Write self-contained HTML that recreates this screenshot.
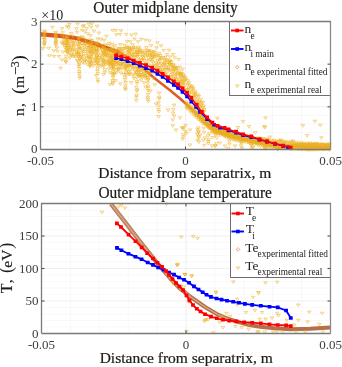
<!DOCTYPE html><html><head><meta charset="utf-8"><style>html,body{margin:0;padding:0;background:#fff;width:342px;height:367px;overflow:hidden;position:relative}</style></head><body><svg width="342" height="367" viewBox="0 0 342 367" style="position:absolute;left:0;top:0;will-change:transform">
<rect width="342" height="367" fill="#fff"/>
<line x1="69.50" y1="21.5" x2="69.50" y2="149.5" stroke="#ededed" stroke-width="0.8" stroke-dasharray="1 1"/>
<line x1="98.50" y1="21.5" x2="98.50" y2="149.5" stroke="#ededed" stroke-width="0.8" stroke-dasharray="1 1"/>
<line x1="127.50" y1="21.5" x2="127.50" y2="149.5" stroke="#ededed" stroke-width="0.8" stroke-dasharray="1 1"/>
<line x1="156.50" y1="21.5" x2="156.50" y2="149.5" stroke="#ededed" stroke-width="0.8" stroke-dasharray="1 1"/>
<line x1="214.50" y1="21.5" x2="214.50" y2="149.5" stroke="#ededed" stroke-width="0.8" stroke-dasharray="1 1"/>
<line x1="243.50" y1="21.5" x2="243.50" y2="149.5" stroke="#ededed" stroke-width="0.8" stroke-dasharray="1 1"/>
<line x1="272.50" y1="21.5" x2="272.50" y2="149.5" stroke="#ededed" stroke-width="0.8" stroke-dasharray="1 1"/>
<line x1="301.50" y1="21.5" x2="301.50" y2="149.5" stroke="#ededed" stroke-width="0.8" stroke-dasharray="1 1"/>
<line x1="185.50" y1="21.5" x2="185.50" y2="149.5" stroke="#ebebeb" stroke-width="0.8"/>
<line x1="40.5" y1="140.97" x2="330.5" y2="140.97" stroke="#efefef" stroke-width="0.8" stroke-dasharray="1 1"/>
<line x1="40.5" y1="132.43" x2="330.5" y2="132.43" stroke="#efefef" stroke-width="0.8" stroke-dasharray="1 1"/>
<line x1="40.5" y1="123.90" x2="330.5" y2="123.90" stroke="#efefef" stroke-width="0.8" stroke-dasharray="1 1"/>
<line x1="40.5" y1="115.37" x2="330.5" y2="115.37" stroke="#efefef" stroke-width="0.8" stroke-dasharray="1 1"/>
<line x1="40.5" y1="106.83" x2="330.5" y2="106.83" stroke="#ebebeb" stroke-width="0.8"/>
<line x1="40.5" y1="98.30" x2="330.5" y2="98.30" stroke="#efefef" stroke-width="0.8" stroke-dasharray="1 1"/>
<line x1="40.5" y1="89.77" x2="330.5" y2="89.77" stroke="#efefef" stroke-width="0.8" stroke-dasharray="1 1"/>
<line x1="40.5" y1="81.23" x2="330.5" y2="81.23" stroke="#efefef" stroke-width="0.8" stroke-dasharray="1 1"/>
<line x1="40.5" y1="72.70" x2="330.5" y2="72.70" stroke="#efefef" stroke-width="0.8" stroke-dasharray="1 1"/>
<line x1="40.5" y1="64.17" x2="330.5" y2="64.17" stroke="#ebebeb" stroke-width="0.8"/>
<line x1="40.5" y1="55.63" x2="330.5" y2="55.63" stroke="#efefef" stroke-width="0.8" stroke-dasharray="1 1"/>
<line x1="40.5" y1="47.10" x2="330.5" y2="47.10" stroke="#efefef" stroke-width="0.8" stroke-dasharray="1 1"/>
<line x1="40.5" y1="38.57" x2="330.5" y2="38.57" stroke="#efefef" stroke-width="0.8" stroke-dasharray="1 1"/>
<line x1="40.5" y1="30.03" x2="330.5" y2="30.03" stroke="#efefef" stroke-width="0.8" stroke-dasharray="1 1"/>
<polyline points="40.5,34.3 60.0,35.9 77.5,38.5 95.0,43.8 109.0,49.0 120.0,53.0" fill="none" stroke="#d9531e" stroke-width="4.2" stroke-linejoin="round" stroke-linecap="butt"/>
<polyline points="120.0,53.0 130.0,58.5 140.0,65.0 150.0,74.5 160.0,82.5 170.0,90.3 180.0,98.5 190.0,107.5 200.0,116.5 207.0,124.0 214.0,129.0 222.0,133.0 240.0,138.0 270.0,144.0 300.0,146.5 330.0,147.5" fill="none" stroke="#db6028" stroke-width="2.6" stroke-linejoin="round" stroke-linecap="butt"/>
<polygon points="192.0,107.5 200.0,113.5 207.0,120.5 214.0,126.2 220.0,128.6 228.5,131.4 236.1,133.8 243.1,136.3 251.3,138.4 259.5,141.2 267.0,143.3 283.0,144.5 300.0,142.8 330.0,143.5 330.0,150.3 300.0,150.3 283.0,150.0 265.0,146.0 250.0,143.0 230.0,138.0 215.0,133.5 207.0,127.5 200.0,120.0 192.0,111.5" fill="#e8aa22" fill-opacity="0.85"/>
<path d="M42.62 30.04H46.12L44.37 32.64ZM42.90 31.28H46.40L44.65 33.88ZM42.65 32.70H46.15L44.40 35.30ZM42.46 33.95H45.96L44.21 36.55ZM42.73 35.49H46.23L44.48 38.09ZM42.41 36.42H45.91L44.16 39.02ZM42.40 38.14H45.90L44.15 40.74ZM42.77 38.85H46.27L44.52 41.45ZM42.94 40.90H46.44L44.69 43.50ZM42.74 41.94H46.24L44.49 44.54ZM42.44 42.78H45.94L44.19 45.38ZM42.67 44.13H46.17L44.42 46.73ZM53.86 31.49H57.36L55.61 34.09ZM53.77 32.94H57.27L55.52 35.54ZM54.01 34.51H57.51L55.76 37.11ZM54.06 35.64H57.56L55.81 38.24ZM54.05 36.94H57.55L55.80 39.54ZM54.02 37.92H57.52L55.77 40.52ZM54.35 39.76H57.85L56.10 42.36ZM54.25 40.82H57.75L56.00 43.42ZM53.94 41.73H57.44L55.69 44.33ZM53.92 42.89H57.42L55.67 45.49ZM54.21 44.43H57.71L55.96 47.03ZM65.46 35.21H68.96L67.21 37.81ZM65.52 36.91H69.02L67.27 39.51ZM64.95 37.73H68.45L66.70 40.33ZM65.50 39.28H69.00L67.25 41.88ZM65.54 40.55H69.04L67.29 43.15ZM64.99 42.07H68.49L66.74 44.67ZM65.42 43.12H68.92L67.17 45.72ZM65.00 44.50H68.50L66.75 47.10ZM65.53 46.17H69.03L67.28 48.77ZM65.02 47.10H68.52L66.77 49.70ZM65.01 48.28H68.51L66.76 50.88ZM65.43 49.71H68.93L67.18 52.31ZM65.43 51.71H68.93L67.18 54.31ZM64.32 55.22H67.82L66.07 57.82ZM64.14 58.06H67.64L65.89 60.66ZM64.10 60.66H67.60L65.85 63.26ZM50.65 26.20H54.15L52.40 28.80ZM65.25 25.50H68.75L67.00 28.10ZM74.75 27.70H78.25L76.50 30.30ZM82.15 24.70H85.65L83.90 27.30ZM87.25 23.30H90.75L89.00 25.90ZM41.25 47.60H44.75L43.00 50.20ZM46.85 47.20H50.35L48.60 49.80ZM52.15 49.60H55.65L53.90 52.20ZM55.75 50.30H59.25L57.50 52.90ZM52.15 55.40H55.65L53.90 58.00ZM47.75 54.70H51.25L49.50 57.30ZM57.25 55.40H60.75L59.00 58.00ZM58.75 67.10H62.25L60.50 69.70ZM60.25 58.90H63.75L62.00 61.50ZM64.25 60.90H67.75L66.00 63.50ZM68.25 56.90H71.75L70.00 59.50ZM55.25 46.90H58.75L57.00 49.50ZM61.25 50.90H64.75L63.00 53.50ZM84.86 27.51H88.36L86.61 30.11ZM179.62 72.75H183.12L181.37 75.35ZM96.27 42.13H99.77L98.02 44.73ZM165.05 58.53H168.55L166.80 61.13ZM70.79 39.23H74.29L72.54 41.83ZM154.84 46.77H158.34L156.59 49.37ZM95.29 25.18H98.79L97.04 27.78ZM69.51 32.34H73.01L71.26 34.94ZM88.63 34.61H92.13L90.38 37.21ZM104.71 35.16H108.21L106.46 37.76ZM178.14 66.20H181.64L179.89 68.80ZM130.07 48.62H133.57L131.82 51.22ZM81.10 25.22H84.60L82.85 27.82ZM171.80 66.55H175.30L173.55 69.15ZM89.44 26.17H92.94L91.19 28.77ZM150.68 55.28H154.18L152.43 57.88ZM82.82 40.84H86.32L84.57 43.44ZM168.52 60.00H172.02L170.27 62.60ZM110.93 29.51H114.43L112.68 32.11ZM63.09 36.35H66.59L64.84 38.95ZM90.37 39.64H93.87L92.12 42.24ZM132.81 38.00H136.31L134.56 40.60ZM80.18 35.98H83.68L81.93 38.58ZM66.85 26.64H70.35L68.60 29.24ZM172.92 56.80H176.42L174.67 59.40ZM60.32 27.51H63.82L62.07 30.11ZM113.96 29.25H117.46L115.71 31.85ZM80.28 29.31H83.78L82.03 31.91ZM129.77 33.97H133.27L131.52 36.57ZM103.52 43.75H107.02L105.27 46.35ZM144.65 46.55H148.15L146.40 49.15ZM75.79 23.15H79.29L77.54 25.75ZM60.49 34.78H63.99L62.24 37.38ZM145.87 53.75H149.37L147.62 56.35ZM60.91 31.74H64.41L62.66 34.34ZM118.53 43.57H122.03L120.28 46.17ZM98.11 44.86H101.61L99.86 47.46ZM150.39 50.85H153.89L152.14 53.45ZM157.41 58.87H160.91L159.16 61.47ZM102.23 39.30H105.73L103.98 41.90ZM110.39 43.14H113.89L112.14 45.74ZM136.37 40.67H139.87L138.12 43.27ZM131.08 43.76H134.58L132.83 46.36ZM182.42 76.30H185.92L184.17 78.90ZM149.28 44.51H152.78L151.03 47.11ZM113.32 44.68H116.82L115.07 47.28ZM118.37 33.53H121.87L120.12 36.13ZM135.06 50.73H138.56L136.81 53.33ZM90.23 22.63H93.73L91.98 25.23ZM95.88 37.79H99.38L97.63 40.39ZM171.47 63.50H174.97L173.22 66.10ZM99.12 38.24H102.62L100.87 40.84ZM83.06 30.65H86.56L84.81 33.25ZM168.28 55.85H171.78L170.03 58.45ZM75.27 31.36H78.77L77.02 33.96ZM162.89 60.96H166.39L164.64 63.56ZM114.58 33.67H118.08L116.33 36.27ZM181.00 68.18H184.50L182.75 70.78ZM67.58 23.52H71.08L69.33 26.12ZM167.35 49.11H170.85L169.10 51.71ZM161.96 49.40H165.46L163.71 52.00ZM137.00 46.05H140.50L138.75 48.65ZM143.81 39.25H147.31L145.56 41.85ZM147.52 39.92H151.02L149.27 42.52ZM92.29 30.10H95.79L94.04 32.70ZM107.44 42.57H110.94L109.19 45.17ZM171.53 53.49H175.03L173.28 56.09ZM174.83 67.41H178.33L176.58 70.01ZM168.17 63.19H171.67L169.92 65.79ZM139.67 38.19H143.17L141.42 40.79ZM125.37 46.14H128.87L127.12 48.74ZM165.22 53.36H168.72L166.97 55.96ZM119.18 29.65H122.68L120.93 32.25ZM159.39 44.74H162.89L161.14 47.34ZM122.82 44.28H126.32L124.57 46.88ZM176.89 58.42H180.39L178.64 61.02ZM85.93 32.77H89.43L87.68 35.37ZM97.21 31.98H100.71L98.96 34.58ZM125.24 40.36H128.74L126.99 42.96ZM133.90 33.14H137.40L135.65 35.74ZM128.61 40.81H132.11L130.36 43.41ZM155.66 41.76H159.16L157.41 44.36ZM71.36 35.01H74.86L73.11 37.61ZM124.42 33.33H127.92L126.17 35.93ZM85.52 42.32H89.02L87.27 44.92ZM187.17 81.79H190.67L188.92 84.39ZM164.15 59.75H167.65L165.90 62.35ZM179.25 77.02H182.75L181.00 79.62ZM78.27 47.39H81.77L80.02 49.99ZM190.58 99.62H194.08L192.33 102.22ZM132.56 60.25H136.06L134.31 62.85ZM158.30 54.57H161.80L160.05 57.17ZM75.43 41.19H78.93L77.18 43.79ZM133.87 56.27H137.37L135.62 58.87ZM86.64 46.49H90.14L88.39 49.09ZM201.86 111.40H205.36L203.61 114.00ZM69.11 54.38H72.61L70.86 56.98ZM169.61 65.29H173.11L171.36 67.89ZM133.94 53.38H137.44L135.69 55.98ZM86.17 51.04H89.67L87.92 53.64ZM118.21 49.06H121.71L119.96 51.66ZM133.55 46.78H137.05L135.30 49.38ZM174.89 78.37H178.39L176.64 80.97ZM150.25 56.35H153.75L152.00 58.95ZM132.36 65.69H135.86L134.11 68.29ZM97.18 64.41H100.68L98.93 67.01ZM171.50 77.95H175.00L173.25 80.55ZM188.46 95.67H191.96L190.21 98.27ZM169.97 75.49H173.47L171.72 78.09ZM163.59 56.32H167.09L165.34 58.92ZM127.29 46.05H130.79L129.04 48.65ZM151.59 62.00H155.09L153.34 64.60ZM195.34 100.00H198.84L197.09 102.60ZM154.60 61.69H158.10L156.35 64.29ZM115.96 64.90H119.46L117.71 67.50ZM160.53 69.16H164.03L162.28 71.76ZM96.95 52.75H100.45L98.70 55.35ZM88.20 50.12H91.70L89.95 52.72ZM202.55 108.61H206.05L204.30 111.21ZM71.15 48.86H74.65L72.90 51.46ZM66.70 52.05H70.20L68.45 54.65ZM127.71 47.83H131.21L129.46 50.43ZM147.65 49.36H151.15L149.40 51.96ZM120.41 54.60H123.91L122.16 57.20ZM112.53 51.37H116.03L114.28 53.97ZM140.42 51.77H143.92L142.17 54.37ZM102.58 47.84H106.08L104.33 50.44ZM116.01 62.60H119.51L117.76 65.20ZM70.76 54.76H74.26L72.51 57.36ZM128.55 64.33H132.05L130.30 66.93ZM135.09 65.33H138.59L136.84 67.93ZM127.22 64.38H130.72L128.97 66.98ZM125.41 48.55H128.91L127.16 51.15ZM135.77 48.37H139.27L137.52 50.97ZM155.76 59.34H159.26L157.51 61.94ZM143.51 55.07H147.01L145.26 57.67ZM136.15 67.21H139.65L137.90 69.81ZM187.91 93.20H191.41L189.66 95.80ZM141.03 58.39H144.53L142.78 60.99ZM167.98 61.19H171.48L169.73 63.79ZM200.35 109.53H203.85L202.10 112.13ZM65.90 39.69H69.40L67.65 42.29ZM121.05 56.51H124.55L122.80 59.11ZM137.71 47.99H141.21L139.46 50.59ZM156.96 62.04H160.46L158.71 64.64ZM113.62 54.38H117.12L115.37 56.98ZM109.40 60.09H112.90L111.15 62.69ZM70.88 41.23H74.38L72.63 43.83ZM149.44 64.97H152.94L151.19 67.57ZM120.93 49.77H124.43L122.68 52.37ZM113.01 57.72H116.51L114.76 60.32ZM106.78 56.47H110.28L108.53 59.07ZM191.93 92.11H195.43L193.68 94.71ZM74.12 56.30H77.62L75.87 58.90ZM158.25 56.69H161.75L160.00 59.29ZM71.93 44.05H75.43L73.68 46.65ZM159.49 57.15H162.99L161.24 59.75ZM111.42 59.40H114.92L113.17 62.00ZM77.04 53.49H80.54L78.79 56.09ZM122.88 60.32H126.38L124.63 62.92ZM105.67 53.70H109.17L107.42 56.30ZM188.20 84.45H191.70L189.95 87.05ZM115.67 49.50H119.17L117.42 52.10ZM174.23 74.16H177.73L175.98 76.76ZM140.73 49.96H144.23L142.48 52.56ZM198.45 103.73H201.95L200.20 106.33ZM69.41 47.08H72.91L71.16 49.68ZM72.27 41.08H75.77L74.02 43.68ZM80.82 55.67H84.32L82.57 58.27ZM95.35 49.12H98.85L97.10 51.72ZM134.83 60.99H138.33L136.58 63.59ZM108.56 64.84H112.06L110.31 67.44ZM130.84 54.94H134.34L132.59 57.54ZM161.51 73.80H165.01L163.26 76.40ZM178.40 80.98H181.90L180.15 83.58ZM175.49 81.91H178.99L177.24 84.51ZM197.21 102.02H200.71L198.96 104.62ZM161.79 70.85H165.29L163.54 73.45ZM120.38 48.18H123.88L122.13 50.78ZM201.96 105.01H205.46L203.71 107.61ZM89.47 51.47H92.97L91.22 54.07ZM198.93 98.13H202.43L200.68 100.73ZM76.67 52.02H80.17L78.42 54.62ZM85.91 44.25H89.41L87.66 46.85ZM143.77 67.08H147.27L145.52 69.68ZM75.79 43.09H79.29L77.54 45.69ZM93.91 59.02H97.41L95.66 61.62ZM92.28 47.85H95.78L94.03 50.45ZM84.92 57.46H88.42L86.67 60.06ZM138.65 63.27H142.15L140.40 65.87ZM109.17 56.36H112.67L110.92 58.96ZM129.26 48.74H132.76L131.01 51.34ZM195.75 102.52H199.25L197.50 105.12ZM135.69 55.52H139.19L137.44 58.12ZM61.81 42.92H65.31L63.56 45.52ZM82.74 44.54H86.24L84.49 47.14ZM151.34 71.94H154.84L153.09 74.54ZM177.81 70.14H181.31L179.56 72.74ZM182.85 79.06H186.35L184.60 81.66ZM119.88 62.96H123.38L121.63 65.56ZM178.41 72.50H181.91L180.16 75.10ZM104.78 52.11H108.28L106.53 54.71ZM103.97 54.77H107.47L105.72 57.37ZM116.63 53.70H120.13L118.38 56.30ZM114.18 58.72H117.68L115.93 61.32ZM140.92 55.38H144.42L142.67 57.98ZM202.05 109.97H205.55L203.80 112.57ZM148.35 53.34H151.85L150.10 55.94ZM137.44 51.51H140.94L139.19 54.11ZM116.33 57.68H119.83L118.08 60.28ZM88.84 58.19H92.34L90.59 60.79ZM195.39 98.60H198.89L197.14 101.20ZM107.68 61.95H111.18L109.43 64.55ZM80.39 42.96H83.89L82.14 45.56ZM161.54 56.57H165.04L163.29 59.17ZM179.93 81.03H183.43L181.68 83.63ZM118.43 47.48H121.93L120.18 50.08ZM169.91 76.85H173.41L171.66 79.45ZM107.64 54.11H111.14L109.39 56.71ZM117.55 58.27H121.05L119.30 60.87ZM173.17 75.70H176.67L174.92 78.30ZM62.90 41.65H66.40L64.65 44.25ZM153.30 51.64H156.80L155.05 54.24ZM147.69 50.81H151.19L149.44 53.41ZM189.38 90.66H192.88L191.13 93.26ZM131.81 47.97H135.31L133.56 50.57ZM179.73 73.86H183.23L181.48 76.46ZM149.93 52.10H153.43L151.68 54.70ZM95.23 56.07H98.73L96.98 58.67ZM107.32 64.14H110.82L109.07 66.74ZM126.46 47.33H129.96L128.21 49.93ZM79.64 59.04H83.14L81.39 61.64ZM146.27 50.02H149.77L148.02 52.62ZM101.52 63.97H105.02L103.27 66.57ZM142.27 64.59H145.77L144.02 67.19ZM86.00 63.66H89.50L87.75 66.26ZM154.40 55.63H157.90L156.15 58.23ZM165.74 63.29H169.24L167.49 65.89ZM175.20 66.63H178.70L176.95 69.23ZM97.95 56.43H101.45L99.70 59.03ZM152.01 50.35H155.51L153.76 52.95ZM80.95 60.94H84.45L82.70 63.54ZM127.45 51.94H130.95L129.20 54.54ZM158.82 68.22H162.32L160.57 70.82ZM129.72 65.21H133.22L131.47 67.81ZM182.52 80.41H186.02L184.27 83.01ZM141.18 66.24H144.68L142.93 68.84ZM135.33 53.70H138.83L137.08 56.30ZM106.11 48.87H109.61L107.86 51.47ZM167.77 63.15H171.27L169.52 65.75ZM132.13 52.37H135.63L133.88 54.97ZM159.62 62.66H163.12L161.37 65.26ZM104.05 53.47H107.55L105.80 56.07ZM155.45 69.92H158.95L157.20 72.52ZM175.40 69.46H178.90L177.15 72.06ZM173.56 66.02H177.06L175.31 68.62ZM196.24 93.88H199.74L197.99 96.48ZM103.05 52.12H106.55L104.80 54.72ZM111.23 56.71H114.73L112.98 59.31ZM64.70 50.22H68.20L66.45 52.82ZM131.52 64.23H135.02L133.27 66.83ZM192.19 99.99H195.69L193.94 102.59ZM84.83 60.44H88.33L86.58 63.04ZM89.14 55.92H92.64L90.89 58.52ZM186.11 79.67H189.61L187.86 82.27ZM184.60 88.30H188.10L186.35 90.90ZM159.77 73.70H163.27L161.52 76.30ZM71.55 42.73H75.05L73.30 45.33ZM144.61 51.51H148.11L146.36 54.11ZM192.78 96.80H196.28L194.53 99.40ZM123.22 54.47H126.72L124.97 57.07ZM66.73 46.60H70.23L68.48 49.20ZM96.13 61.52H99.63L97.88 64.12ZM101.03 60.71H104.53L102.78 63.31ZM100.16 56.14H103.66L101.91 58.74ZM188.53 97.92H192.03L190.28 100.52ZM126.26 59.05H129.76L128.01 61.65ZM193.13 94.73H196.63L194.88 97.33ZM139.76 59.35H143.26L141.51 61.95ZM154.38 67.19H157.88L156.13 69.79ZM132.56 62.34H136.06L134.31 64.94ZM171.74 64.67H175.24L173.49 67.27ZM93.90 52.92H97.40L95.65 55.52ZM131.60 46.66H135.10L133.35 49.26ZM162.45 65.37H165.95L164.20 67.97ZM97.85 61.75H101.35L99.60 64.35ZM173.45 67.63H176.95L175.20 70.23ZM104.72 48.49H108.22L106.47 51.09ZM149.08 58.72H152.58L150.83 61.32ZM144.43 49.24H147.93L146.18 51.84ZM84.79 46.77H88.29L86.54 49.37ZM159.02 70.33H162.52L160.77 72.93ZM68.99 44.70H72.49L70.74 47.30ZM91.19 64.72H94.69L92.94 67.32ZM130.25 59.74H133.75L132.00 62.34ZM80.92 49.31H84.42L82.67 51.91ZM80.49 47.93H83.99L82.24 50.53ZM93.12 49.22H96.62L94.87 51.82ZM159.59 71.54H163.09L161.34 74.14ZM187.00 86.37H190.50L188.75 88.97ZM180.81 78.03H184.31L182.56 80.63ZM91.05 50.36H94.55L92.80 52.96ZM138.84 49.45H142.34L140.59 52.05ZM90.92 52.73H94.42L92.67 55.33ZM124.19 64.74H127.69L125.94 67.34ZM70.66 50.37H74.16L72.41 52.97ZM99.51 47.26H103.01L101.26 49.86ZM162.52 58.82H166.02L164.27 61.42ZM72.14 55.31H75.64L73.89 57.91ZM170.46 70.13H173.96L172.21 72.73ZM81.82 52.59H85.32L83.57 55.19ZM79.70 54.34H83.20L81.45 56.94ZM163.99 68.60H167.49L165.74 71.20ZM89.54 48.69H93.04L91.29 51.29ZM118.21 52.14H121.71L119.96 54.74ZM91.10 45.57H94.60L92.85 48.17ZM150.40 60.14H153.90L152.15 62.74ZM199.76 101.31H203.26L201.51 103.91ZM191.68 88.99H195.18L193.43 91.59ZM155.57 72.51H159.07L157.32 75.11ZM93.80 57.04H97.30L95.55 59.64ZM121.41 52.01H124.91L123.16 54.61ZM115.07 51.62H118.57L116.82 54.22ZM100.26 49.07H103.76L102.01 51.67ZM94.54 47.07H98.04L96.29 49.67ZM160.55 63.84H164.05L162.30 66.44ZM106.80 51.49H110.30L108.55 54.09ZM109.88 63.03H113.38L111.63 65.63ZM97.70 58.63H101.20L99.45 61.23ZM127.35 56.05H130.85L129.10 58.65ZM170.57 72.67H174.07L172.32 75.27ZM178.88 86.16H182.38L180.63 88.76ZM190.32 85.23H193.82L192.07 87.83ZM132.76 50.84H136.26L134.51 53.44ZM94.47 54.13H97.97L96.22 56.73ZM138.63 58.60H142.13L140.38 61.20ZM179.10 88.43H182.60L180.85 91.03ZM162.63 68.49H166.13L164.38 71.09ZM198.09 105.66H201.59L199.84 108.26ZM136.61 50.27H140.11L138.36 52.87ZM78.27 41.94H81.77L80.02 44.54ZM74.87 52.71H78.37L76.62 55.31ZM124.83 59.57H128.33L126.58 62.17ZM83.50 59.59H87.00L85.25 62.19ZM67.89 42.14H71.39L69.64 44.74ZM174.14 71.11H177.64L175.89 73.71ZM96.26 59.45H99.76L98.01 62.05ZM107.99 60.56H111.49L109.74 63.16ZM178.73 79.27H182.23L180.48 81.87ZM155.97 54.61H159.47L157.72 57.21ZM193.72 103.23H197.22L195.47 105.83ZM77.43 45.83H80.93L79.18 48.43ZM137.84 55.27H141.34L139.59 57.87ZM104.47 61.57H107.97L106.22 64.17ZM100.82 53.07H104.32L102.57 55.67ZM169.70 80.90H173.20L171.45 83.50ZM81.26 44.36H84.76L83.01 46.96ZM193.75 92.36H197.25L195.50 94.96ZM129.50 52.20H133.00L131.25 54.80ZM116.87 47.61H120.37L118.62 50.21ZM194.51 102.05H198.01L196.26 104.65ZM173.55 77.76H177.05L175.30 80.36ZM201.24 101.62H204.74L202.99 104.22ZM92.74 51.61H96.24L94.49 54.21ZM151.49 55.66H154.99L153.24 58.26ZM189.69 87.55H193.19L191.44 90.15ZM166.53 67.49H170.03L168.28 70.09ZM110.35 54.10H113.85L112.10 56.70ZM186.16 83.14H189.66L187.91 85.74ZM75.75 59.59H79.25L77.50 62.19ZM157.09 72.89H160.59L158.84 75.49ZM86.48 49.20H89.98L88.23 51.80ZM152.32 53.11H155.82L154.07 55.71ZM132.44 55.93H135.94L134.19 58.53ZM180.01 83.10H183.51L181.76 85.70ZM124.14 55.74H127.64L125.89 58.34ZM193.47 90.89H196.97L195.22 93.49ZM165.61 78.25H169.11L167.36 80.85ZM184.30 78.30H187.80L186.05 80.90ZM153.09 71.03H156.59L154.84 73.63ZM69.52 53.10H73.02L71.27 55.70ZM136.94 64.03H140.44L138.69 66.63ZM100.24 58.20H103.74L101.99 60.80ZM94.83 61.18H98.33L96.58 63.78ZM183.92 90.03H187.42L185.67 92.63ZM148.49 68.23H151.99L150.24 70.83ZM185.60 89.65H189.10L187.35 92.25ZM108.81 52.51H112.31L110.56 55.11ZM88.30 64.77H91.80L90.05 67.37ZM120.99 60.75H124.49L122.74 63.35ZM125.57 53.90H129.07L127.32 56.50ZM143.09 52.27H146.59L144.84 54.87ZM125.30 63.30H128.80L127.05 65.90ZM166.54 68.80H170.04L168.29 71.40ZM159.62 66.33H163.12L161.37 68.93ZM177.58 84.26H181.08L179.33 86.86ZM72.89 45.36H76.39L74.64 47.96ZM150.77 57.98H154.27L152.52 60.58ZM126.72 50.27H130.22L128.47 52.87ZM146.84 69.64H150.34L148.59 72.24ZM153.19 64.56H156.69L154.94 67.16ZM69.77 45.83H73.27L71.52 48.43ZM154.07 53.76H157.57L155.82 56.36ZM84.11 54.61H87.61L85.86 57.21ZM166.36 61.19H169.86L168.11 63.79ZM164.76 71.92H168.26L166.51 74.52ZM76.16 55.03H79.66L77.91 57.63ZM102.29 61.16H105.79L104.04 63.76ZM181.91 75.21H185.41L183.66 77.81ZM82.39 61.79H85.89L84.14 64.39ZM118.37 56.41H121.87L120.12 59.01ZM198.07 100.30H201.57L199.82 102.90ZM82.24 57.93H85.74L83.99 60.53ZM64.33 39.79H67.83L66.08 42.39ZM66.84 43.95H70.34L68.59 46.55ZM97.55 47.92H101.05L99.30 50.52ZM187.05 95.57H190.55L188.80 98.17ZM67.34 50.87H70.84L69.09 53.47ZM92.09 46.55H95.59L93.84 49.15ZM105.21 55.18H108.71L106.96 57.78ZM118.39 64.11H121.89L120.14 66.71ZM145.10 68.86H148.60L146.85 71.46ZM145.77 54.44H149.27L147.52 57.04ZM147.37 59.77H150.87L149.12 62.37ZM67.84 40.33H71.34L69.59 42.93ZM157.47 52.60H160.97L159.22 55.20ZM179.16 75.27H182.66L180.91 77.87ZM177.42 82.69H180.92L179.17 85.29ZM167.89 69.23H171.39L169.64 71.83ZM171.99 69.90H175.49L173.74 72.50ZM77.89 57.63H81.39L79.64 60.23ZM64.74 43.43H68.24L66.49 46.03ZM158.86 58.99H162.36L160.61 61.59ZM83.68 48.14H87.18L85.43 50.74ZM164.70 66.88H168.20L166.45 69.48ZM162.71 62.31H166.21L164.46 64.91ZM140.26 67.85H143.76L142.01 70.45ZM167.95 59.80H171.45L169.70 62.40ZM181.43 73.94H184.93L183.18 76.54ZM63.16 44.21H66.66L64.91 46.81ZM102.15 50.81H105.65L103.90 53.41ZM136.69 58.97H140.19L138.44 61.57ZM164.53 76.23H168.03L166.28 78.83ZM141.19 53.17H144.69L142.94 55.77ZM74.84 49.74H78.34L76.59 52.34ZM69.03 48.96H72.53L70.78 51.56ZM86.64 52.76H90.14L88.39 55.36ZM183.03 91.28H186.53L184.78 93.88ZM72.61 48.09H76.11L74.36 50.69ZM197.12 95.31H200.62L198.87 97.91ZM143.20 62.94H146.70L144.95 65.54ZM199.73 107.70H203.23L201.48 110.30ZM135.48 51.84H138.98L137.23 54.44ZM128.75 59.87H132.25L130.50 62.47ZM135.00 50.30H138.50L136.75 52.90ZM173.27 73.17H176.77L175.02 75.77ZM169.43 63.56H172.93L171.18 66.16ZM111.22 63.25H114.72L112.97 65.85ZM172.12 68.03H175.62L173.87 70.63ZM166.29 65.71H169.79L168.04 68.31ZM89.65 62.01H93.15L91.40 64.61ZM87.80 45.79H91.30L89.55 48.39ZM125.14 51.38H128.64L126.89 53.98ZM99.29 65.21H102.79L101.04 67.81ZM104.15 50.06H107.65L105.90 52.66ZM169.26 69.17H172.76L171.01 71.77ZM181.23 79.98H184.73L182.98 82.58ZM195.25 104.74H198.75L197.00 107.34ZM148.73 55.09H152.23L150.48 57.69ZM186.65 88.03H190.15L188.40 90.63ZM182.23 89.37H185.73L183.98 91.97ZM192.18 93.70H195.68L193.93 96.30ZM60.49 42.71H63.99L62.24 45.31ZM142.36 59.64H145.86L144.11 62.24ZM123.56 47.12H127.06L125.31 49.72ZM130.30 53.69H133.80L132.05 56.29ZM88.35 47.21H91.85L90.10 49.81ZM175.15 85.08H178.65L176.90 87.68ZM176.76 72.24H180.26L178.51 74.84ZM191.74 87.25H195.24L193.49 89.85ZM86.84 56.64H90.34L88.59 59.24ZM201.11 106.65H204.61L202.86 109.25ZM158.39 73.25H161.89L160.14 75.85ZM170.95 66.77H174.45L172.70 69.37ZM183.59 83.82H187.09L185.34 86.42ZM119.51 52.40H123.01L121.26 55.00ZM122.17 57.77H125.67L123.92 60.37ZM189.32 86.06H192.82L191.07 88.66ZM169.80 61.11H173.30L171.55 63.71ZM139.08 51.33H142.58L140.83 53.93ZM122.09 47.52H125.59L123.84 50.12ZM196.77 105.05H200.27L198.52 107.65ZM66.89 48.45H70.39L68.64 51.05ZM129.84 55.78H133.34L131.59 58.38ZM91.85 62.18H95.35L93.60 64.78ZM119.04 50.66H122.54L120.79 53.26ZM156.23 66.73H159.73L157.98 69.33ZM92.57 59.99H96.07L94.32 62.59ZM144.67 62.17H148.17L146.42 64.77ZM106.69 59.93H110.19L108.44 62.53ZM188.02 91.03H191.52L189.77 93.63ZM175.51 73.06H179.01L177.26 75.66ZM146.89 56.65H150.39L148.64 59.25ZM103.21 59.26H106.71L104.96 61.86ZM104.74 63.14H108.24L106.49 65.74ZM72.51 53.65H76.01L74.26 56.25ZM98.06 54.75H101.56L99.81 57.35ZM90.47 57.90H93.97L92.22 60.50ZM128.02 50.13H131.52L129.77 52.73ZM176.41 76.96H179.91L178.16 79.56ZM109.05 54.49H112.55L110.80 57.09ZM110.74 64.90H114.24L112.49 67.50ZM183.56 76.73H187.06L185.31 79.33ZM63.24 46.40H66.74L64.99 49.00ZM95.84 50.46H99.34L97.59 53.06ZM127.33 53.91H130.83L129.08 56.51ZM154.55 64.82H158.05L156.30 67.42ZM173.02 81.05H176.52L174.77 83.65ZM87.60 61.22H91.10L89.35 63.82ZM158.01 66.06H161.51L159.76 68.66ZM179.72 72.28H183.22L181.47 74.88ZM62.16 39.68H65.66L63.91 42.28ZM194.58 95.79H198.08L196.33 98.39ZM144.89 59.04H148.39L146.64 61.64ZM126.60 62.50H130.10L128.35 65.10ZM74.74 51.20H78.24L76.49 53.80ZM176.71 80.57H180.21L178.46 83.17ZM83.63 50.60H87.13L85.38 53.20ZM86.62 55.18H90.12L88.37 57.78ZM115.00 61.03H118.50L116.75 63.63ZM191.45 95.33H194.95L193.20 97.93ZM181.03 84.36H184.53L182.78 86.96ZM156.01 63.67H159.51L157.76 66.27ZM162.84 63.74H166.34L164.59 66.34ZM144.98 67.56H148.48L146.73 70.16ZM169.08 73.68H172.58L170.83 76.28ZM114.73 48.32H118.23L116.48 50.92ZM181.28 82.62H184.78L183.03 85.22ZM136.83 52.87H140.33L138.58 55.47ZM141.49 56.59H144.99L143.24 59.19ZM137.73 66.16H141.23L139.48 68.76ZM100.93 51.31H104.43L102.68 53.91ZM166.14 75.25H169.64L167.89 77.85ZM79.07 55.84H82.57L80.82 58.44ZM150.16 53.71H153.66L151.91 56.31ZM108.79 48.79H112.29L110.54 51.39ZM60.53 40.95H64.03L62.28 43.55ZM163.58 73.22H167.08L165.33 75.82ZM104.97 60.29H108.47L106.72 62.89ZM83.43 43.21H86.93L85.18 45.81ZM178.11 74.38H181.61L179.86 76.98ZM157.78 74.43H161.28L159.53 77.03ZM101.73 54.38H105.23L103.48 56.98ZM146.35 63.91H149.85L148.10 66.51ZM129.31 47.44H132.81L131.06 50.04ZM108.18 50.23H111.68L109.93 52.83ZM89.78 45.22H93.28L91.53 47.82ZM80.26 50.98H83.76L82.01 53.58ZM105.64 50.11H109.14L107.39 52.71ZM112.38 52.71H115.88L114.13 55.31ZM199.62 104.59H203.12L201.37 107.19ZM152.81 56.06H156.31L154.56 58.66ZM181.34 86.75H184.84L183.09 89.35ZM174.43 83.02H177.93L176.18 85.62ZM151.51 69.12H155.01L153.26 71.72ZM86.94 42.96H90.44L88.69 45.56ZM91.07 42.49H94.57L92.82 45.09ZM84.72 39.32H88.22L86.47 41.92ZM94.08 42.21H97.58L95.83 44.81ZM106.87 44.58H110.37L108.62 47.18ZM103.08 48.53H106.58L104.83 51.13ZM81.29 36.93H84.79L83.04 39.53ZM109.52 49.29H113.02L111.27 51.89ZM76.89 37.82H80.39L78.64 40.42ZM101.39 44.79H104.89L103.14 47.39ZM91.10 45.67H94.60L92.85 48.27ZM112.71 50.13H116.21L114.46 52.73ZM113.92 79.67H117.42L115.67 82.27ZM112.31 72.73H115.81L114.06 75.33ZM112.63 60.45H116.13L114.38 63.05ZM126.72 65.45H130.22L128.47 68.05ZM152.89 83.76H156.39L154.64 86.36ZM148.62 90.09H152.12L150.37 92.69ZM142.36 81.61H145.86L144.11 84.21ZM129.53 81.64H133.03L131.28 84.24ZM138.37 69.15H141.87L140.12 71.75ZM132.10 73.35H135.60L133.85 75.95ZM139.26 79.06H142.76L141.01 81.66ZM143.75 86.04H147.25L145.50 88.64ZM151.40 77.30H154.90L153.15 79.90ZM128.01 73.48H131.51L129.76 76.08ZM133.65 70.55H137.15L135.40 73.15ZM143.29 74.71H146.79L145.04 77.31ZM108.30 71.70H111.80L110.05 74.30ZM111.37 64.81H114.87L113.12 67.41ZM138.26 75.11H141.76L140.01 77.71ZM131.67 68.08H135.17L133.42 70.68ZM114.44 63.66H117.94L116.19 66.26ZM132.23 77.49H135.73L133.98 80.09ZM108.38 83.57H111.88L110.13 86.17ZM145.84 76.55H149.34L147.59 79.15ZM118.66 82.87H122.16L120.41 85.47ZM144.47 72.46H147.97L146.22 75.06ZM111.60 61.85H115.10L113.35 64.45ZM116.38 67.38H119.88L118.13 69.98ZM136.49 73.46H139.99L138.24 76.06ZM124.61 66.13H128.11L126.36 68.73ZM125.90 65.35H129.40L127.65 67.95ZM125.36 69.49H128.86L127.11 72.09ZM136.12 68.22H139.62L137.87 70.82ZM130.06 64.40H133.56L131.81 67.00ZM108.15 61.56H111.65L109.90 64.16ZM121.34 61.12H124.84L123.09 63.72ZM109.59 62.47H113.09L111.34 65.07ZM145.83 76.55H149.33L147.58 79.15ZM121.73 63.69H125.23L123.48 66.29ZM112.01 65.62H115.51L113.76 68.22ZM141.49 70.62H144.99L143.24 73.22ZM113.66 59.55H117.16L115.41 62.15ZM106.89 68.00H110.39L108.64 70.60ZM139.46 67.69H142.96L141.21 70.29ZM114.19 61.96H117.69L115.94 64.56ZM138.54 73.50H142.04L140.29 76.10ZM118.97 64.87H122.47L120.72 67.47ZM121.16 65.61H124.66L122.91 68.21ZM140.29 76.25H143.79L142.04 78.85ZM131.49 74.90H134.99L133.24 77.50ZM145.65 70.58H149.15L147.40 73.18ZM147.89 71.61H151.39L149.64 74.21ZM141.50 73.66H145.00L143.25 76.26ZM114.81 71.66H118.31L116.56 74.26ZM142.60 72.19H146.10L144.35 74.79ZM145.84 74.04H149.34L147.59 76.64ZM116.56 68.83H120.06L118.31 71.43ZM120.55 62.49H124.05L122.30 65.09ZM108.90 57.86H112.40L110.65 60.46ZM123.57 67.14H127.07L125.32 69.74ZM118.47 60.28H121.97L120.22 62.88ZM134.57 67.76H138.07L136.32 70.36ZM118.71 62.82H122.21L120.46 65.42ZM111.08 58.33H114.58L112.83 60.93ZM126.44 62.46H129.94L128.19 65.06ZM107.26 57.82H110.76L109.01 60.42ZM139.23 71.61H142.73L140.98 74.21ZM137.80 70.58H141.30L139.55 73.18ZM139.53 74.99H143.03L141.28 77.59ZM143.79 74.79H147.29L145.54 77.39ZM128.65 68.61H132.15L130.40 71.21ZM128.31 71.99H131.81L130.06 74.59ZM142.29 68.66H145.79L144.04 71.26ZM122.02 73.39H125.52L123.77 75.99ZM112.31 68.58H115.81L114.06 71.18ZM126.79 70.48H130.29L128.54 73.08ZM119.15 71.90H122.65L120.90 74.50ZM137.05 74.97H140.55L138.80 77.57ZM109.65 67.34H113.15L111.40 69.94ZM136.97 66.59H140.47L138.72 69.19ZM107.66 62.91H111.16L109.41 65.51ZM143.43 77.13H146.93L145.18 79.73ZM117.73 68.01H121.23L119.48 70.61ZM115.84 61.50H119.34L117.59 64.10ZM131.71 66.88H135.21L133.46 69.48ZM115.05 68.58H118.55L116.80 71.18ZM146.86 78.29H150.36L148.61 80.89ZM136.35 69.77H139.85L138.10 72.37ZM127.64 64.68H131.14L129.39 67.28ZM119.87 67.84H123.37L121.62 70.44ZM112.41 72.86H115.91L114.16 75.46ZM141.89 75.39H145.39L143.64 77.99ZM126.74 72.98H130.24L128.49 75.58ZM147.86 73.36H151.36L149.61 75.96ZM134.62 71.51H138.12L136.37 74.11ZM77.64 36.36H81.14L79.39 38.96ZM77.53 38.09H81.03L79.28 40.69ZM78.05 41.01H81.55L79.80 43.61ZM77.86 42.78H81.36L79.61 45.38ZM76.66 44.87H80.16L78.41 47.47ZM77.61 47.09H81.11L79.36 49.69ZM76.47 48.50H79.97L78.22 51.10ZM77.05 50.91H80.55L78.80 53.51ZM76.70 52.98H80.20L78.45 55.58ZM77.08 55.68H80.58L78.83 58.28ZM78.08 57.75H81.58L79.83 60.35ZM76.29 60.09H79.79L78.04 62.69ZM77.47 62.02H80.97L79.22 64.62ZM77.48 63.65H80.98L79.23 66.25ZM76.93 65.39H80.43L78.68 67.99ZM77.58 67.47H81.08L79.33 70.07ZM77.61 70.65H81.11L79.36 73.25ZM77.59 72.36H81.09L79.34 74.96ZM77.87 74.91H81.37L79.62 77.51ZM77.88 77.05H81.38L79.63 79.65ZM88.67 38.92H92.17L90.42 41.52ZM88.98 41.67H92.48L90.73 44.27ZM89.48 43.63H92.98L91.23 46.23ZM88.48 44.91H91.98L90.23 47.51ZM89.41 47.65H92.91L91.16 50.25ZM89.72 49.61H93.22L91.47 52.21ZM89.46 51.83H92.96L91.21 54.43ZM89.73 53.45H93.23L91.48 56.05ZM89.54 55.38H93.04L91.29 57.98ZM87.77 57.29H91.27L89.52 59.89ZM88.45 60.09H91.95L90.20 62.69ZM88.54 61.23H92.04L90.29 63.83ZM89.13 63.02H92.63L90.88 65.62ZM88.36 65.37H91.86L90.11 67.97ZM94.50 41.82H98.00L96.25 44.42ZM95.10 44.70H98.60L96.85 47.30ZM94.93 47.53H98.43L96.68 50.13ZM94.64 49.40H98.14L96.39 52.00ZM94.70 51.17H98.20L96.45 53.77ZM94.85 55.09H98.35L96.60 57.69ZM94.83 57.03H98.33L96.58 59.63ZM95.30 59.25H98.80L97.05 61.85ZM95.32 61.50H98.82L97.07 64.10ZM94.95 64.40H98.45L96.70 67.00ZM95.88 67.71H99.38L97.63 70.31ZM95.65 70.00H99.15L97.40 72.60ZM95.98 72.79H99.48L97.73 75.39ZM94.36 74.41H97.86L96.11 77.01ZM95.75 78.07H99.25L97.50 80.67ZM96.23 80.53H99.73L97.98 83.13ZM101.57 44.78H105.07L103.32 47.38ZM102.50 47.42H106.00L104.25 50.02ZM101.52 50.57H105.02L103.27 53.17ZM102.27 52.07H105.77L104.02 54.67ZM103.21 54.83H106.71L104.96 57.43ZM101.39 57.85H104.89L103.14 60.45ZM101.77 59.74H105.27L103.52 62.34ZM101.86 62.92H105.36L103.61 65.52ZM101.89 65.60H105.39L103.64 68.20ZM103.06 68.69H106.56L104.81 71.29ZM103.03 71.16H106.53L104.78 73.76ZM101.76 73.59H105.26L103.51 76.19ZM110.59 46.66H114.09L112.34 49.26ZM110.57 48.20H114.07L112.32 50.80ZM111.97 50.40H115.47L113.72 53.00ZM111.60 53.09H115.10L113.35 55.69ZM110.45 55.60H113.95L112.20 58.20ZM110.55 57.89H114.05L112.30 60.49ZM111.76 59.55H115.26L113.51 62.15ZM111.16 61.10H114.66L112.91 63.70ZM111.57 63.28H115.07L113.32 65.88ZM111.29 66.60H114.79L113.04 69.20ZM111.53 67.72H115.03L113.28 70.32ZM111.60 70.65H115.10L113.35 73.25ZM110.98 72.90H114.48L112.73 75.50ZM111.38 74.60H114.88L113.13 77.20ZM111.29 76.59H114.79L113.04 79.19ZM110.91 79.56H114.41L112.66 82.16ZM111.01 81.57H114.51L112.76 84.17ZM111.04 82.98H114.54L112.79 85.58ZM123.15 62.35H126.65L124.90 64.95ZM124.05 64.87H127.55L125.80 67.47ZM123.86 65.99H127.36L125.61 68.59ZM123.35 68.47H126.85L125.10 71.07ZM123.88 71.83H127.38L125.63 74.43ZM124.30 73.84H127.80L126.05 76.44ZM123.43 76.23H126.93L125.18 78.83ZM123.33 78.44H126.83L125.08 81.04ZM123.74 81.53H127.24L125.49 84.13ZM123.59 84.83H127.09L125.34 87.43ZM123.53 87.14H127.03L125.28 89.74ZM123.79 88.55H127.29L125.54 91.15ZM134.58 71.90H138.08L136.33 74.50ZM135.42 73.71H138.92L137.17 76.31ZM135.25 76.73H138.75L137.00 79.33ZM135.24 80.45H138.74L136.99 83.05ZM135.28 82.21H138.78L137.03 84.81ZM134.71 86.12H138.21L136.46 88.72ZM135.47 88.77H138.97L137.22 91.37ZM135.09 90.07H138.59L136.84 92.67ZM134.92 94.21H138.42L136.67 96.81ZM134.62 95.93H138.12L136.37 98.53ZM134.59 99.61H138.09L136.34 102.21ZM146.10 79.03H149.60L147.85 81.63ZM146.11 81.89H149.61L147.86 84.49ZM146.18 85.22H149.68L147.93 87.82ZM146.41 87.05H149.91L148.16 89.65ZM146.28 89.66H149.78L148.03 92.26ZM146.19 93.53H149.69L147.94 96.13ZM146.01 96.22H149.51L147.76 98.82ZM145.99 98.20H149.49L147.74 100.80ZM146.54 100.24H150.04L148.29 102.84ZM157.30 91.95H160.80L159.05 94.55ZM157.46 96.00H160.96L159.21 98.60ZM157.44 97.84H160.94L159.19 100.44ZM156.95 101.59H160.45L158.70 104.19ZM157.03 104.98H160.53L158.78 107.58ZM156.84 108.50H160.34L158.59 111.10ZM157.17 110.50H160.67L158.92 113.10ZM156.87 115.47H160.37L158.62 118.07ZM172.31 104.10H175.81L174.06 106.70ZM171.57 108.53H175.07L173.32 111.13ZM171.22 112.05H174.72L172.97 114.65ZM172.46 114.92H175.96L174.21 117.52ZM170.96 118.88H174.46L172.71 121.48ZM171.08 124.74H174.58L172.83 127.34ZM183.78 124.44H187.28L185.53 127.04ZM181.32 126.50H184.82L183.07 129.10ZM181.43 127.80H184.93L183.18 130.40ZM183.72 130.25H187.22L185.47 132.85ZM184.75 132.33H188.25L186.50 134.93ZM181.44 133.62H184.94L183.19 136.22ZM181.47 135.70H184.97L183.22 138.30ZM180.89 138.00H184.39L182.64 140.60ZM196.39 126.76H199.89L198.14 129.36ZM195.92 128.65H199.42L197.67 131.25ZM196.75 130.34H200.25L198.50 132.94ZM196.68 131.46H200.18L198.43 134.06ZM195.58 133.07H199.08L197.33 135.67ZM196.58 135.29H200.08L198.33 137.89ZM197.12 136.88H200.62L198.87 139.48ZM195.78 139.27H199.28L197.53 141.87ZM197.08 140.93H200.58L198.83 143.53ZM210.56 131.01H214.06L212.31 133.61ZM207.51 132.64H211.01L209.26 135.24ZM206.47 134.71H209.97L208.22 137.31ZM210.91 136.51H214.41L212.66 139.11ZM206.88 138.58H210.38L208.63 141.18ZM206.48 140.45H209.98L208.23 143.05ZM206.55 142.40H210.05L208.30 145.00ZM210.24 144.79H213.74L211.99 147.39ZM307.15 145.26H310.65L308.90 147.86ZM247.77 136.19H251.27L249.52 138.79ZM297.88 145.86H301.38L299.63 148.46ZM242.99 135.83H246.49L244.74 138.43ZM250.28 136.60H253.78L252.03 139.20ZM201.52 116.71H205.02L203.27 119.31ZM245.44 136.28H248.94L247.19 138.88ZM303.38 146.24H306.88L305.13 148.84ZM309.08 145.94H312.58L310.83 148.54ZM207.24 123.19H210.74L208.99 125.79ZM305.15 146.09H308.65L306.90 148.69ZM277.31 144.55H280.81L279.06 147.15ZM191.17 107.93H194.67L192.92 110.53ZM246.39 141.36H249.89L248.14 143.96ZM320.11 146.34H323.61L321.86 148.94ZM221.61 129.53H225.11L223.36 132.13ZM264.72 141.33H268.22L266.47 143.93ZM318.28 143.88H321.78L320.03 146.48ZM213.74 126.20H217.24L215.49 128.80ZM188.38 109.67H191.88L190.13 112.27ZM309.70 143.30H313.20L311.45 145.90ZM186.46 106.24H189.96L188.21 108.84ZM219.74 132.36H223.24L221.49 134.96ZM315.55 147.28H319.05L317.30 149.88ZM224.57 134.14H228.07L226.32 136.74ZM225.94 135.59H229.44L227.69 138.19ZM221.42 134.58H224.92L223.17 137.18ZM281.93 146.97H285.43L283.68 149.57ZM234.03 139.06H237.53L235.78 141.66ZM268.09 140.56H271.59L269.84 143.16ZM277.40 141.96H280.90L279.15 144.56ZM272.15 140.86H275.65L273.90 143.46ZM198.66 118.72H202.16L200.41 121.32ZM204.70 124.28H208.20L206.45 126.88ZM223.56 132.26H227.06L225.31 134.86ZM318.54 147.82H322.04L320.29 150.42ZM304.43 148.77H307.93L306.18 151.37ZM271.18 146.55H274.68L272.93 149.15ZM273.89 143.84H277.39L275.64 146.44ZM230.88 134.75H234.38L232.63 137.35ZM266.30 140.22H269.80L268.05 142.82ZM276.70 146.36H280.20L278.45 148.96ZM287.98 142.39H291.48L289.73 144.99ZM188.24 106.46H191.74L189.99 109.06ZM263.02 141.95H266.52L264.77 144.55ZM271.48 143.39H274.98L273.23 145.99ZM281.90 144.35H285.40L283.65 146.95ZM263.83 139.78H267.33L265.58 142.38ZM202.04 119.65H205.54L203.79 122.25ZM311.92 148.55H315.42L313.67 151.15ZM258.89 140.77H262.39L260.64 143.37ZM209.92 128.53H213.42L211.67 131.13ZM196.53 112.95H200.03L198.28 115.55ZM212.10 125.56H215.60L213.85 128.16ZM259.64 138.67H263.14L261.39 141.27ZM251.06 141.22H254.56L252.81 143.82ZM215.26 131.42H218.76L217.01 134.02ZM268.56 146.71H272.06L270.31 149.31ZM294.87 143.57H298.37L296.62 146.17ZM237.90 136.63H241.40L239.65 139.23ZM290.03 146.27H293.53L291.78 148.87ZM210.92 130.35H214.42L212.67 132.95ZM325.67 145.83H329.17L327.42 148.43ZM327.60 146.62H331.10L329.35 149.22ZM239.63 134.75H243.13L241.38 137.35ZM287.72 145.31H291.22L289.47 147.91ZM275.58 143.71H279.08L277.33 146.31ZM197.29 116.76H200.79L199.04 119.36ZM285.58 143.69H289.08L287.33 146.29ZM323.92 145.71H327.42L325.67 148.31ZM208.20 125.44H211.70L209.95 128.04ZM235.81 134.47H239.31L237.56 137.07ZM312.20 143.52H315.70L313.95 146.12ZM258.71 144.97H262.21L260.46 147.57ZM185.11 107.61H188.61L186.86 110.21ZM315.07 145.35H318.57L316.82 147.95ZM230.82 138.26H234.32L232.57 140.86ZM270.49 140.94H273.99L272.24 143.54ZM263.08 144.79H266.58L264.83 147.39ZM190.93 110.85H194.43L192.68 113.45ZM254.46 138.83H257.96L256.21 141.43ZM247.26 138.63H250.76L249.01 141.23ZM298.82 147.53H302.32L300.57 150.13ZM218.40 134.14H221.90L220.15 136.74ZM267.42 142.71H270.92L269.17 145.31ZM186.48 102.71H189.98L188.23 105.31ZM302.11 143.92H305.61L303.86 146.52ZM255.56 143.18H259.06L257.31 145.78ZM218.81 130.47H222.31L220.56 133.07ZM253.32 137.34H256.82L255.07 139.94ZM317.33 145.61H320.83L319.08 148.21ZM213.08 128.97H216.58L214.83 131.57ZM300.20 143.86H303.70L301.95 146.46ZM257.04 142.26H260.54L258.79 144.86ZM216.99 131.79H220.49L218.74 134.39ZM268.64 144.81H272.14L270.39 147.41ZM327.62 144.89H331.12L329.37 147.49ZM257.64 138.44H261.14L259.39 141.04ZM199.08 113.98H202.58L200.83 116.58ZM196.37 115.01H199.87L198.12 117.61ZM285.44 146.81H288.94L287.19 149.41ZM297.38 143.55H300.88L299.13 146.15ZM279.09 147.00H282.59L280.84 149.60ZM283.29 142.61H286.79L285.04 145.21ZM240.60 139.48H244.10L242.35 142.08ZM185.21 104.43H188.71L186.96 107.03ZM289.68 142.78H293.18L291.43 145.38ZM274.91 140.14H278.41L276.66 142.74ZM216.16 127.88H219.66L217.91 130.48ZM279.70 140.10H283.20L281.45 142.70ZM294.64 141.96H298.14L296.39 144.56ZM270.07 142.48H273.57L271.82 145.08ZM283.61 144.46H287.11L285.36 147.06ZM219.90 129.20H223.40L221.65 131.80ZM279.44 141.68H282.94L281.19 144.28ZM275.31 145.38H278.81L277.06 147.98ZM294.80 147.30H298.30L296.55 149.90ZM288.71 148.05H292.21L290.46 150.65ZM248.86 139.12H252.36L250.61 141.72ZM321.23 143.52H324.73L322.98 146.12ZM314.26 148.72H317.76L316.01 151.32ZM194.10 111.25H197.60L195.85 113.85ZM302.87 147.76H306.37L304.62 150.36ZM209.91 126.67H213.41L211.66 129.27ZM204.55 120.88H208.05L206.30 123.48ZM244.69 141.58H248.19L246.44 144.18ZM282.05 140.37H285.55L283.80 142.97ZM252.00 139.76H255.50L253.75 142.36ZM234.93 136.91H238.43L236.68 139.51ZM259.89 143.16H263.39L261.64 145.76ZM242.23 140.74H245.73L243.98 143.34ZM239.75 136.69H243.25L241.50 139.29ZM310.90 146.96H314.40L312.65 149.56ZM269.63 139.14H273.13L271.38 141.74ZM292.85 141.81H296.35L294.60 144.41ZM245.13 138.60H248.63L246.88 141.20ZM228.90 137.81H232.40L230.65 140.41ZM228.03 132.90H231.53L229.78 135.50ZM225.56 131.52H229.06L227.31 134.12ZM195.68 111.57H199.18L197.43 114.17ZM199.50 117.14H203.00L201.25 119.74ZM261.96 138.86H265.46L263.71 141.46ZM194.94 116.47H198.44L196.69 119.07ZM248.06 140.61H251.56L249.81 143.21ZM200.49 120.36H203.99L202.24 122.96ZM226.08 133.41H229.58L227.83 136.01ZM184.52 101.03H188.02L186.27 103.63ZM189.54 111.80H193.04L191.29 114.40ZM243.15 139.28H246.65L244.90 141.88ZM252.86 143.78H256.36L254.61 146.38ZM272.05 144.94H275.55L273.80 147.54ZM283.85 140.83H287.35L285.60 143.43ZM210.03 124.77H213.53L211.78 127.37ZM222.68 130.82H226.18L224.43 133.42ZM194.29 114.46H197.79L196.04 117.06ZM291.95 145.56H295.45L293.70 148.16ZM285.22 141.96H288.72L286.97 144.56ZM323.98 148.34H327.48L325.73 150.94ZM256.65 144.40H260.15L258.40 147.00ZM223.36 135.47H226.86L225.11 138.07ZM310.73 144.60H314.23L312.48 147.20ZM273.49 146.92H276.99L275.24 149.52ZM264.63 143.91H268.13L266.38 146.51ZM280.27 143.27H283.77L282.02 145.87ZM236.48 138.26H239.98L238.23 140.86ZM192.21 112.97H195.71L193.96 115.57ZM292.80 147.35H296.30L294.55 149.95ZM260.69 144.69H264.19L262.44 147.29ZM326.26 147.64H329.76L328.01 150.24ZM260.80 140.17H264.30L262.55 142.77ZM230.40 132.65H233.90L232.15 135.25ZM227.17 131.52H230.67L228.92 134.12ZM323.70 143.24H327.20L325.45 145.84ZM232.97 137.07H236.47L234.72 139.67ZM296.17 145.26H299.67L297.92 147.86ZM249.95 142.97H253.45L251.70 145.57ZM309.31 147.61H312.81L311.06 150.21ZM307.39 143.63H310.89L309.14 146.23ZM228.88 135.65H232.38L230.63 138.25ZM300.71 146.12H304.21L302.46 148.72ZM283.70 147.30H287.20L285.45 149.90ZM319.79 144.50H323.29L321.54 147.10ZM211.62 127.94H215.12L213.37 130.54ZM327.95 143.32H331.45L329.70 145.92ZM321.97 147.20H325.47L323.72 149.80ZM243.94 137.30H247.44L245.69 139.90ZM202.52 121.29H206.02L204.27 123.89ZM232.73 135.46H236.23L234.48 138.06ZM202.66 123.15H206.16L204.41 125.75ZM272.47 139.21H275.97L274.22 141.81ZM254.55 140.62H258.05L256.30 143.22ZM322.33 144.91H325.83L324.08 147.51ZM296.95 148.43H300.45L298.70 151.03ZM206.94 121.48H210.44L208.69 124.08ZM239.12 140.45H242.62L240.87 143.05ZM274.97 141.98H278.47L276.72 144.58ZM315.45 142.48H318.95L317.20 145.08ZM237.50 139.66H241.00L239.25 142.26ZM305.85 144.30H309.35L307.60 146.90ZM266.77 146.01H270.27L268.52 148.61ZM266.59 138.41H270.09L268.34 141.01ZM306.36 142.25H309.86L308.11 144.85ZM304.03 143.16H307.53L305.78 145.76ZM306.78 147.27H310.28L308.53 149.87ZM278.98 144.61H282.48L280.73 147.21ZM207.28 127.32H210.78L209.03 129.92ZM299.70 142.20H303.20L301.45 144.80ZM301.80 142.18H305.30L303.55 144.78ZM291.11 143.70H294.61L292.86 146.30ZM237.84 134.36H241.34L239.59 136.96ZM241.85 137.63H245.35L243.60 140.23ZM312.48 145.51H315.98L314.23 148.11ZM234.16 134.21H237.66L235.91 136.81ZM189.77 107.08H193.27L191.52 109.68ZM200.57 118.35H204.07L202.32 120.95ZM256.22 139.20H259.72L257.97 141.80ZM193.66 108.90H197.16L195.41 111.50ZM294.19 145.45H297.69L295.94 148.05ZM321.15 148.78H324.65L322.90 151.38ZM206.10 126.03H209.60L207.85 128.63ZM229.39 133.90H232.89L231.14 136.50ZM248.11 142.52H251.61L249.86 145.12ZM187.22 108.12H190.72L188.97 110.72ZM256.38 137.16H259.88L258.13 139.76ZM327.71 148.84H331.21L329.46 151.44ZM221.53 132.26H225.03L223.28 134.86ZM187.18 104.44H190.68L188.93 107.04ZM325.14 143.99H328.64L326.89 146.59ZM300.34 148.61H303.84L302.09 151.21ZM214.16 132.60H217.66L215.91 135.20ZM289.24 144.50H292.74L290.99 147.10ZM316.88 148.71H320.38L318.63 151.31ZM277.90 139.71H281.40L279.65 142.31ZM313.79 146.60H317.29L315.54 149.20ZM261.69 142.88H265.19L263.44 145.48ZM241.31 135.53H244.81L243.06 138.13ZM293.12 144.21H296.62L294.87 146.81ZM227.10 136.90H230.60L228.85 139.50ZM184.80 102.87H188.30L186.55 105.47ZM214.75 129.81H218.25L216.50 132.41ZM254.19 142.35H257.69L255.94 144.95ZM216.57 130.02H220.07L218.32 132.62ZM214.50 128.12H218.00L216.25 130.72ZM215.73 133.07H219.23L217.48 135.67ZM203.32 118.04H206.82L205.07 120.64ZM263.42 137.92H266.92L265.17 140.52ZM290.77 147.83H294.27L292.52 150.43ZM232.91 132.85H236.41L234.66 135.45ZM184.78 105.99H188.28L186.53 108.59ZM230.18 136.66H233.68L231.93 139.26ZM287.00 140.97H290.50L288.75 143.57ZM218.10 128.16H221.60L219.85 130.76ZM281.78 141.98H285.28L283.53 144.58ZM212.48 131.72H215.98L214.23 134.32ZM238.73 138.32H242.23L240.48 140.92ZM220.50 130.77H224.00L222.25 133.37ZM192.45 110.09H195.95L194.20 112.69ZM280.65 145.70H284.15L282.40 148.30ZM296.97 141.91H300.47L298.72 144.51ZM307.79 148.81H311.29L309.54 151.41ZM266.85 144.27H270.35L268.60 146.87ZM209.24 123.21H212.74L210.99 125.81ZM313.80 142.54H317.30L315.55 145.14ZM252.88 141.28H256.38L254.63 143.88ZM287.40 146.93H290.90L289.15 149.53ZM189.56 105.30H193.06L191.31 107.90ZM251.55 137.70H255.05L253.30 140.30ZM289.06 140.89H292.56L290.81 143.49ZM316.64 143.80H320.14L318.39 146.40ZM270.35 144.78H273.85L272.10 147.38ZM204.24 122.68H207.74L205.99 125.28ZM256.18 140.89H259.68L257.93 143.49ZM291.15 141.11H294.65L292.90 143.71ZM235.59 139.63H239.09L237.34 142.23ZM194.65 112.85H198.15L196.40 115.45ZM201.10 122.50H204.60L202.85 125.10ZM200.56 115.24H204.06L202.31 117.84ZM196.47 118.27H199.97L198.22 120.87ZM265.06 146.18H268.56L266.81 148.78ZM190.06 109.37H193.56L191.81 111.97ZM236.37 136.02H239.87L238.12 138.62ZM198.18 115.34H201.68L199.93 117.94ZM232.41 138.92H235.91L234.16 141.52ZM260.89 137.49H264.39L262.64 140.09ZM313.85 144.19H317.35L315.60 146.79ZM308.33 142.26H311.83L310.08 144.86ZM248.79 137.50H252.29L250.54 140.10ZM306.16 148.75H309.66L307.91 151.35ZM276.44 140.65H279.94L278.19 143.25ZM319.84 142.72H323.34L321.59 145.32ZM227.43 134.48H230.93L229.18 137.08ZM326.36 142.88H329.86L328.11 145.48ZM311.04 142.39H314.54L312.79 144.99ZM192.70 114.84H196.20L194.45 117.44ZM275.23 147.12H278.73L276.98 149.72ZM224.60 136.51H228.10L226.35 139.11ZM224.29 130.45H227.79L226.04 133.05ZM265.68 142.69H269.18L267.43 145.29ZM272.87 142.35H276.37L274.62 144.95ZM258.78 137.26H262.28L260.53 139.86ZM222.86 133.73H226.36L224.61 136.33ZM264.93 138.57H268.43L266.68 141.17ZM198.84 120.40H202.34L200.59 123.00ZM286.11 145.23H289.61L287.86 147.83ZM204.47 119.20H207.97L206.22 121.80ZM296.36 146.88H299.86L298.11 149.48ZM250.49 138.97H253.99L252.24 141.57ZM310.33 148.87H313.83L312.08 151.47ZM201.86 127.16H205.36L203.61 129.76ZM202.28 131.13H205.78L204.03 133.73ZM201.60 139.20H205.10L203.35 141.80ZM202.45 144.32H205.95L204.20 146.92ZM213.72 133.81H217.22L215.47 136.41ZM215.12 136.81H218.62L216.87 139.41ZM214.85 142.59H218.35L216.60 145.19ZM213.78 144.91H217.28L215.53 147.51ZM227.24 136.55H230.74L228.99 139.15ZM227.54 140.10H231.04L229.29 142.70ZM227.61 143.02H231.11L229.36 145.62ZM226.38 147.29H229.88L228.13 149.89ZM239.98 140.99H243.48L241.73 143.59ZM239.43 141.99H242.93L241.18 144.59ZM239.28 144.92H242.78L241.03 147.52ZM240.24 147.02H243.74L241.99 149.62ZM249.50 143.45H253.00L251.25 146.05ZM249.99 144.38H253.49L251.74 146.98ZM251.02 146.51H254.52L252.77 149.11ZM250.14 147.39H253.64L251.89 149.99ZM263.44 145.14H266.94L265.19 147.74ZM263.02 146.29H266.52L264.77 148.89ZM262.84 147.26H266.34L264.59 149.86ZM263.79 147.94H267.29L265.54 150.54ZM276.82 146.42H280.32L278.57 149.02ZM276.46 147.07H279.96L278.21 149.67ZM275.46 147.76H278.96L277.21 150.36ZM276.23 148.58H279.73L277.98 151.18ZM215.65 117.30H219.15L217.40 119.90ZM241.25 120.40H244.75L243.00 123.00ZM263.75 116.90H267.25L265.50 119.50ZM236.15 126.50H239.65L237.90 129.10ZM247.25 125.50H250.75L249.00 128.10ZM262.75 125.50H266.25L264.50 128.10ZM253.55 131.60H257.05L255.30 134.20ZM263.05 126.40H266.55L264.80 129.00ZM301.05 124.60H304.55L302.80 127.20ZM313.05 120.20H316.55L314.80 122.80ZM318.55 124.20H322.05L320.30 126.80ZM305.35 134.50H308.85L307.10 137.10ZM319.65 136.70H323.15L321.40 139.30ZM268.15 136.00H271.65L269.90 138.60ZM279.05 138.90H282.55L280.80 141.50ZM291.15 139.90H294.65L292.90 142.50ZM178.25 116.90H181.75L180.00 119.50ZM174.25 128.90H177.75L176.00 131.50ZM188.25 128.90H191.75L190.00 131.50ZM198.25 133.90H201.75L200.00 136.50ZM203.25 136.90H206.75L205.00 139.50ZM218.25 141.90H221.75L220.00 144.50ZM223.25 144.90H226.75L225.00 147.50ZM233.25 144.90H236.75L235.00 147.50ZM188.25 143.90H191.75L190.00 146.50ZM213.25 144.90H216.75L215.00 147.50ZM180.25 126.90H183.75L182.00 129.50ZM166.25 108.90H169.75L168.00 111.50ZM154.25 102.90H157.75L156.00 105.50Z" fill="none" stroke="#edb120" stroke-width="0.55"/>
<polyline points="116.1,58.1 121.4,59.3 127.5,61.2 133.7,63.3 139.8,65.6 146.0,68.2 152.1,70.7 157.4,73.9 162.6,77.0 167.9,80.9 173.8,84.9 178.0,88.0 182.5,91.9 187.0,96.5 191.3,101.6 196.0,107.0 200.0,112.0 207.1,119.1 214.1,124.8 220.0,127.6 228.5,130.4 236.1,132.8 243.1,135.3 251.3,137.2 259.5,139.6 267.0,141.6 275.0,143.9 283.0,145.9 288.0,147.2" fill="none" stroke="#0000ff" stroke-width="1.4" stroke-linejoin="round"/>
<path d="M114.3 56.3h3.6v3.6h-3.6zM119.6 57.5h3.6v3.6h-3.6zM125.7 59.4h3.6v3.6h-3.6zM131.9 61.5h3.6v3.6h-3.6zM138.0 63.8h3.6v3.6h-3.6zM144.2 66.4h3.6v3.6h-3.6zM150.3 68.9h3.6v3.6h-3.6zM155.6 72.1h3.6v3.6h-3.6zM160.8 75.2h3.6v3.6h-3.6zM166.1 79.1h3.6v3.6h-3.6zM172.0 83.1h3.6v3.6h-3.6zM176.2 86.2h3.6v3.6h-3.6zM180.7 90.1h3.6v3.6h-3.6zM185.2 94.7h3.6v3.6h-3.6zM189.5 99.8h3.6v3.6h-3.6zM194.2 105.2h3.6v3.6h-3.6zM198.2 110.2h3.6v3.6h-3.6zM205.3 117.3h3.6v3.6h-3.6zM212.3 123.0h3.6v3.6h-3.6zM218.2 125.8h3.6v3.6h-3.6zM226.7 128.6h3.6v3.6h-3.6zM234.3 131.0h3.6v3.6h-3.6zM241.3 133.5h3.6v3.6h-3.6zM249.5 135.4h3.6v3.6h-3.6zM257.7 137.8h3.6v3.6h-3.6zM265.2 139.8h3.6v3.6h-3.6zM273.2 142.1h3.6v3.6h-3.6zM281.2 144.1h3.6v3.6h-3.6zM286.2 145.4h3.6v3.6h-3.6z" fill="#0000ff"/>
<polyline points="116.1,55.4 121.4,56.7 127.5,58.4 133.7,60.7 139.8,63.0 146.0,65.1 152.1,67.7 157.4,70.7 162.6,73.9 167.9,77.4 173.8,81.4 178.0,84.5 182.5,88.4 187.0,93.0 191.3,98.0 196.6,105.0 201.8,112.0 207.1,117.4 212.4,122.6 217.6,125.8 224.6,127.9 228.5,129.4 236.1,131.7 243.1,134.3 251.3,136.4 259.5,139.3 267.0,141.3 275.0,143.6 283.0,145.6 290.7,147.6" fill="none" stroke="#ff0000" stroke-width="1.5" stroke-linejoin="round"/>
<path d="M114.2 53.5h3.8v3.8h-3.8zM119.5 54.8h3.8v3.8h-3.8zM125.6 56.5h3.8v3.8h-3.8zM131.8 58.8h3.8v3.8h-3.8zM137.9 61.1h3.8v3.8h-3.8zM144.1 63.2h3.8v3.8h-3.8zM150.2 65.8h3.8v3.8h-3.8zM155.5 68.8h3.8v3.8h-3.8zM160.7 72.0h3.8v3.8h-3.8zM166.0 75.5h3.8v3.8h-3.8zM171.9 79.5h3.8v3.8h-3.8zM176.1 82.6h3.8v3.8h-3.8zM180.6 86.5h3.8v3.8h-3.8zM185.1 91.1h3.8v3.8h-3.8zM189.4 96.1h3.8v3.8h-3.8zM194.7 103.1h3.8v3.8h-3.8zM199.9 110.1h3.8v3.8h-3.8zM205.2 115.5h3.8v3.8h-3.8zM210.5 120.7h3.8v3.8h-3.8zM215.7 123.9h3.8v3.8h-3.8zM222.7 126.0h3.8v3.8h-3.8zM226.6 127.5h3.8v3.8h-3.8zM234.2 129.8h3.8v3.8h-3.8zM241.2 132.4h3.8v3.8h-3.8zM249.4 134.5h3.8v3.8h-3.8zM257.6 137.4h3.8v3.8h-3.8zM265.1 139.4h3.8v3.8h-3.8zM273.1 141.7h3.8v3.8h-3.8zM281.1 143.7h3.8v3.8h-3.8zM288.8 145.7h3.8v3.8h-3.8z" fill="#ff0000"/>
<line x1="70.40" y1="203.5" x2="70.40" y2="333.5" stroke="#ededed" stroke-width="0.8" stroke-dasharray="1 1"/>
<line x1="99.30" y1="203.5" x2="99.30" y2="333.5" stroke="#ededed" stroke-width="0.8" stroke-dasharray="1 1"/>
<line x1="128.20" y1="203.5" x2="128.20" y2="333.5" stroke="#ededed" stroke-width="0.8" stroke-dasharray="1 1"/>
<line x1="157.10" y1="203.5" x2="157.10" y2="333.5" stroke="#ededed" stroke-width="0.8" stroke-dasharray="1 1"/>
<line x1="214.90" y1="203.5" x2="214.90" y2="333.5" stroke="#ededed" stroke-width="0.8" stroke-dasharray="1 1"/>
<line x1="243.80" y1="203.5" x2="243.80" y2="333.5" stroke="#ededed" stroke-width="0.8" stroke-dasharray="1 1"/>
<line x1="272.70" y1="203.5" x2="272.70" y2="333.5" stroke="#ededed" stroke-width="0.8" stroke-dasharray="1 1"/>
<line x1="301.60" y1="203.5" x2="301.60" y2="333.5" stroke="#ededed" stroke-width="0.8" stroke-dasharray="1 1"/>
<line x1="186.00" y1="203.5" x2="186.00" y2="333.5" stroke="#ebebeb" stroke-width="0.8"/>
<line x1="41.5" y1="327.00" x2="330.5" y2="327.00" stroke="#efefef" stroke-width="0.8" stroke-dasharray="1 1"/>
<line x1="41.5" y1="320.50" x2="330.5" y2="320.50" stroke="#efefef" stroke-width="0.8" stroke-dasharray="1 1"/>
<line x1="41.5" y1="314.00" x2="330.5" y2="314.00" stroke="#efefef" stroke-width="0.8" stroke-dasharray="1 1"/>
<line x1="41.5" y1="307.50" x2="330.5" y2="307.50" stroke="#efefef" stroke-width="0.8" stroke-dasharray="1 1"/>
<line x1="41.5" y1="301.00" x2="330.5" y2="301.00" stroke="#ebebeb" stroke-width="0.8"/>
<line x1="41.5" y1="294.50" x2="330.5" y2="294.50" stroke="#efefef" stroke-width="0.8" stroke-dasharray="1 1"/>
<line x1="41.5" y1="288.00" x2="330.5" y2="288.00" stroke="#efefef" stroke-width="0.8" stroke-dasharray="1 1"/>
<line x1="41.5" y1="281.50" x2="330.5" y2="281.50" stroke="#efefef" stroke-width="0.8" stroke-dasharray="1 1"/>
<line x1="41.5" y1="275.00" x2="330.5" y2="275.00" stroke="#efefef" stroke-width="0.8" stroke-dasharray="1 1"/>
<line x1="41.5" y1="268.50" x2="330.5" y2="268.50" stroke="#ebebeb" stroke-width="0.8"/>
<line x1="41.5" y1="262.00" x2="330.5" y2="262.00" stroke="#efefef" stroke-width="0.8" stroke-dasharray="1 1"/>
<line x1="41.5" y1="255.50" x2="330.5" y2="255.50" stroke="#efefef" stroke-width="0.8" stroke-dasharray="1 1"/>
<line x1="41.5" y1="249.00" x2="330.5" y2="249.00" stroke="#efefef" stroke-width="0.8" stroke-dasharray="1 1"/>
<line x1="41.5" y1="242.50" x2="330.5" y2="242.50" stroke="#efefef" stroke-width="0.8" stroke-dasharray="1 1"/>
<line x1="41.5" y1="236.00" x2="330.5" y2="236.00" stroke="#ebebeb" stroke-width="0.8"/>
<line x1="41.5" y1="229.50" x2="330.5" y2="229.50" stroke="#efefef" stroke-width="0.8" stroke-dasharray="1 1"/>
<line x1="41.5" y1="223.00" x2="330.5" y2="223.00" stroke="#efefef" stroke-width="0.8" stroke-dasharray="1 1"/>
<line x1="41.5" y1="216.50" x2="330.5" y2="216.50" stroke="#efefef" stroke-width="0.8" stroke-dasharray="1 1"/>
<line x1="41.5" y1="210.00" x2="330.5" y2="210.00" stroke="#efefef" stroke-width="0.8" stroke-dasharray="1 1"/>
<polyline points="111.0,204.0 125.0,222.0 140.0,241.5 150.0,254.0 160.0,266.5 170.0,278.0 180.0,288.5 190.0,296.5 200.0,303.5 205.0,307.0 216.8,314.0 228.5,319.0 240.2,322.6 249.5,325.0 260.0,326.8 275.0,328.3 290.0,329.2 310.0,328.8 330.0,327.5" fill="none" stroke="#b4704a" stroke-width="4" stroke-linejoin="round"/>
<polyline points="111.0,204.0 125.0,222.0 140.0,241.5 150.0,254.0 160.0,266.5 170.0,278.0 180.0,288.5 190.0,296.5" fill="none" stroke="#bf8562" stroke-width="4" stroke-linejoin="round"/>
<polyline points="111.0,204.0 125.0,222.0 140.0,241.5 150.0,254.0 160.0,266.5 170.0,278.0 180.0,288.5 190.0,296.5 200.0,303.5 205.0,307.0 216.8,314.0 228.5,319.0" fill="none" stroke="#d8ab8f" stroke-width="1.2"/>
<path d="M100.25 211.30H103.75L102.00 213.90ZM116.65 205.90H120.15L118.40 208.50ZM119.55 204.50H123.05L121.30 207.10ZM123.25 206.90H126.75L125.00 209.50ZM164.55 203.10H168.05L166.30 205.70ZM179.65 236.00H183.15L181.40 238.60ZM191.45 235.40H194.95L193.20 238.00ZM195.85 237.30H199.35L197.60 239.90ZM175.85 263.20H179.35L177.60 265.80ZM183.25 273.50H186.75L185.00 276.10ZM175.35 263.90H178.85L177.10 266.50ZM175.75 264.30H179.25L177.50 266.90ZM183.65 273.50H187.15L185.40 276.10ZM189.85 275.20H193.35L191.60 277.80ZM171.45 282.20H174.95L173.20 284.80ZM181.95 285.70H185.45L183.70 288.30ZM187.25 300.70H190.75L189.00 303.30ZM214.05 291.00H217.55L215.80 293.60ZM182.85 273.30H186.35L184.60 275.90ZM190.15 274.70H193.65L191.90 277.30ZM171.15 282.10H174.65L172.90 284.70ZM186.65 299.60H190.15L188.40 302.20ZM203.25 319.20H206.75L205.00 321.80ZM206.25 318.60H209.75L208.00 321.20ZM184.85 330.30H188.35L186.60 332.90ZM231.55 280.90H235.05L233.30 283.50ZM214.25 291.60H217.75L216.00 294.20ZM256.65 291.60H260.15L258.40 294.20ZM235.45 298.10H238.95L237.20 300.70ZM251.35 296.30H254.85L253.10 298.90ZM235.45 303.90H238.95L237.20 306.50ZM244.25 311.40H247.75L246.00 314.00ZM253.15 309.30H256.65L254.90 311.90ZM224.75 312.30H228.25L226.50 314.90ZM204.45 318.50H207.95L206.20 321.10ZM202.65 320.20H206.15L204.40 322.80ZM219.45 315.30H222.95L221.20 317.90ZM228.25 315.30H231.75L230.00 317.90ZM217.75 321.10H221.25L219.50 323.70ZM221.25 326.40H224.75L223.00 329.00ZM233.65 325.50H237.15L235.40 328.10ZM239.85 326.40H243.35L241.60 329.00ZM246.95 322.90H250.45L248.70 325.50ZM246.95 328.20H250.45L248.70 330.80ZM255.75 330.90H259.25L257.50 333.50ZM211.55 331.70H215.05L213.30 334.30ZM263.75 281.80H267.25L265.50 284.40ZM275.45 281.10H278.95L277.20 283.70ZM256.75 291.60H260.25L258.50 294.20ZM296.55 304.00H300.05L298.30 306.60ZM307.55 311.00H311.05L309.30 313.60ZM320.35 312.20H323.85L322.10 314.80ZM260.25 311.50H263.75L262.00 314.10ZM275.45 312.20H278.95L277.20 314.80ZM276.65 314.50H280.15L278.40 317.10ZM257.95 318.00H261.45L259.70 320.60ZM263.75 318.00H267.25L265.50 320.60ZM270.05 316.90H273.55L271.80 319.50ZM284.85 319.20H288.35L286.60 321.80ZM296.55 319.20H300.05L298.30 321.80ZM305.85 320.80H309.35L307.60 323.40ZM317.55 323.20H321.05L319.30 325.80ZM292.55 323.90H296.05L294.30 326.50ZM256.75 330.90H260.25L258.50 333.50ZM263.05 330.90H266.55L264.80 333.50ZM271.45 330.90H274.95L273.20 333.50ZM275.05 330.90H278.55L276.80 333.50ZM280.85 330.90H284.35L282.60 333.50ZM294.25 330.90H297.75L296.00 333.50ZM303.55 330.90H307.05L305.30 333.50ZM321.05 330.90H324.55L322.80 333.50Z" fill="none" stroke="#edb120" stroke-width="0.55"/>
<polyline points="117.0,247.9 121.4,250.2 128.4,253.7 135.4,256.7 141.6,259.3 147.7,262.5 153.0,264.9 158.2,267.5 163.5,269.8 169.0,272.5 174.0,274.6 179.0,277.5 184.0,279.8 189.0,282.8 194.0,286.4 198.5,289.5 202.7,292.2 206.5,294.8 210.9,296.9 216.5,298.5 221.5,299.6 227.0,300.7 233.2,301.8 239.0,302.8 244.9,303.9 252.2,304.9 260.8,305.8 269.5,306.7 277.7,307.4 286.1,310.5 290.8,318.0" fill="none" stroke="#0000ff" stroke-width="1.8" stroke-linejoin="round"/>
<path d="M115.1 246.1h3.8v3.6h-3.8zM119.5 248.4h3.8v3.6h-3.8zM126.5 251.9h3.8v3.6h-3.8zM133.5 254.9h3.8v3.6h-3.8zM139.7 257.5h3.8v3.6h-3.8zM145.8 260.7h3.8v3.6h-3.8zM151.1 263.1h3.8v3.6h-3.8zM156.3 265.7h3.8v3.6h-3.8zM161.6 268.0h3.8v3.6h-3.8zM167.1 270.7h3.8v3.6h-3.8zM172.1 272.8h3.8v3.6h-3.8zM177.1 275.7h3.8v3.6h-3.8zM182.1 278.0h3.8v3.6h-3.8zM187.1 281.0h3.8v3.6h-3.8zM192.1 284.6h3.8v3.6h-3.8zM196.6 287.7h3.8v3.6h-3.8zM200.8 290.4h3.8v3.6h-3.8zM204.6 293.0h3.8v3.6h-3.8zM209.0 295.1h3.8v3.6h-3.8zM214.6 296.7h3.8v3.6h-3.8zM219.6 297.8h3.8v3.6h-3.8zM225.1 298.9h3.8v3.6h-3.8zM231.3 300.0h3.8v3.6h-3.8zM237.1 301.0h3.8v3.6h-3.8zM243.0 302.1h3.8v3.6h-3.8zM250.3 303.1h3.8v3.6h-3.8zM258.9 304.0h3.8v3.6h-3.8zM267.6 304.9h3.8v3.6h-3.8zM275.8 305.6h3.8v3.6h-3.8zM284.2 308.7h3.8v3.6h-3.8zM288.9 316.2h3.8v3.6h-3.8z" fill="#0000ff"/>
<polyline points="116.9,223.4 121.0,227.0 128.6,234.6 135.5,241.2 141.7,247.4 147.2,253.2 153.0,258.5 157.4,262.8 162.0,266.7 166.0,271.0 169.0,274.9 172.5,279.0 176.0,283.0 179.5,286.5 183.0,290.0 186.5,295.5 189.5,300.5 193.0,305.0 196.8,308.8 200.5,311.5 205.1,314.2 211.0,316.6 216.8,318.3 223.0,319.8 229.2,320.7 236.3,321.4 244.2,322.2 252.2,322.7 260.8,323.3 269.5,324.3 277.7,325.0 286.1,325.4 290.8,326.1" fill="none" stroke="#ff0000" stroke-width="1.8" stroke-linejoin="round"/>
<path d="M115.0 221.6h3.8v3.6h-3.8zM119.1 225.2h3.8v3.6h-3.8zM126.7 232.8h3.8v3.6h-3.8zM133.6 239.4h3.8v3.6h-3.8zM139.8 245.6h3.8v3.6h-3.8zM145.3 251.4h3.8v3.6h-3.8zM151.1 256.7h3.8v3.6h-3.8zM155.5 261.0h3.8v3.6h-3.8zM160.1 264.9h3.8v3.6h-3.8zM164.1 269.2h3.8v3.6h-3.8zM167.1 273.1h3.8v3.6h-3.8zM170.6 277.2h3.8v3.6h-3.8zM174.1 281.2h3.8v3.6h-3.8zM177.6 284.7h3.8v3.6h-3.8zM181.1 288.2h3.8v3.6h-3.8zM184.6 293.7h3.8v3.6h-3.8zM187.6 298.7h3.8v3.6h-3.8zM191.1 303.2h3.8v3.6h-3.8zM194.9 307.0h3.8v3.6h-3.8zM198.6 309.7h3.8v3.6h-3.8zM203.2 312.4h3.8v3.6h-3.8zM209.1 314.8h3.8v3.6h-3.8zM214.9 316.5h3.8v3.6h-3.8zM221.1 318.0h3.8v3.6h-3.8zM227.3 318.9h3.8v3.6h-3.8zM234.4 319.6h3.8v3.6h-3.8zM242.3 320.4h3.8v3.6h-3.8zM250.3 320.9h3.8v3.6h-3.8zM258.9 321.5h3.8v3.6h-3.8zM267.6 322.5h3.8v3.6h-3.8zM275.8 323.2h3.8v3.6h-3.8zM284.2 323.6h3.8v3.6h-3.8zM288.9 324.3h3.8v3.6h-3.8z" fill="#ff0000"/>
<rect x="229.5" y="21.5" width="101.0" height="74.0" fill="#fff" stroke="#6e6e6e" stroke-width="1"/>
<rect x="230.5" y="203.5" width="100.0" height="74.0" fill="#fff" stroke="#6e6e6e" stroke-width="1"/>
<line x1="231" y1="30.5" x2="243.5" y2="30.5" stroke="#ff0000" stroke-width="1.9"/><rect x="235.4" y="28.7" width="3.6" height="3.6" fill="#ff0000"/>
<line x1="231" y1="49" x2="243.5" y2="49" stroke="#0000ff" stroke-width="1.9"/><rect x="235.4" y="47.2" width="3.6" height="3.6" fill="#0000ff"/>
<path d="M237.3 65.4L239.1 67.2L237.3 69L235.5 67.2Z" fill="none" stroke="#d9531e" stroke-width="0.55"/>
<path d="M235.55 84.90H239.05L237.30 87.50Z" fill="none" stroke="#edb120" stroke-width="0.6"/>
<line x1="231.5" y1="213.5" x2="244" y2="213.5" stroke="#ff0000" stroke-width="1.9"/><rect x="236.1" y="211.7" width="3.6" height="3.6" fill="#ff0000"/>
<line x1="231.5" y1="231.5" x2="244" y2="231.5" stroke="#0000ff" stroke-width="1.9"/><rect x="236.1" y="229.7" width="3.6" height="3.6" fill="#0000ff"/>
<path d="M238 247.6L239.8 249.4L238 251.2L236.2 249.4Z" fill="none" stroke="#d9531e" stroke-width="0.55"/>
<path d="M236.25 266.90H239.75L238.00 269.50Z" fill="none" stroke="#edb120" stroke-width="0.6"/>
<line x1="40.5" y1="149.5" x2="330.5" y2="149.5" stroke="#7a7a7a" stroke-width="1.3"/>
<line x1="40.5" y1="21.5" x2="40.5" y2="149.5" stroke="#7a7a7a" stroke-width="1.3"/>
<line x1="330.5" y1="21.5" x2="330.5" y2="149.5" stroke="#8a8a8a" stroke-width="1.3"/>
<line x1="40.0" y1="21.5" x2="331.0" y2="21.5" stroke="#7a7a7a" stroke-width="1.3"/>
<line x1="40.5" y1="106.83" x2="43.5" y2="106.83" stroke="#555" stroke-width="1.1"/>
<line x1="327.5" y1="106.83" x2="330.5" y2="106.83" stroke="#555" stroke-width="1.1"/>
<line x1="40.5" y1="64.17" x2="43.5" y2="64.17" stroke="#555" stroke-width="1.1"/>
<line x1="327.5" y1="64.17" x2="330.5" y2="64.17" stroke="#555" stroke-width="1.1"/>
<line x1="185.50" y1="21.5" x2="185.50" y2="24.5" stroke="#555" stroke-width="1.1"/>
<line x1="185.50" y1="146.5" x2="185.50" y2="149.5" stroke="#555" stroke-width="1.1"/>
<line x1="41.5" y1="333.5" x2="330.5" y2="333.5" stroke="#7a7a7a" stroke-width="1.3"/>
<line x1="41.5" y1="203.5" x2="41.5" y2="333.5" stroke="#7a7a7a" stroke-width="1.3"/>
<line x1="330.5" y1="203.5" x2="330.5" y2="333.5" stroke="#8a8a8a" stroke-width="1.3"/>
<line x1="41.0" y1="203.5" x2="331.0" y2="203.5" stroke="#7a7a7a" stroke-width="1.3"/>
<line x1="41.5" y1="301.00" x2="44.5" y2="301.00" stroke="#555" stroke-width="1.1"/>
<line x1="327.5" y1="301.00" x2="330.5" y2="301.00" stroke="#555" stroke-width="1.1"/>
<line x1="41.5" y1="268.50" x2="44.5" y2="268.50" stroke="#555" stroke-width="1.1"/>
<line x1="327.5" y1="268.50" x2="330.5" y2="268.50" stroke="#555" stroke-width="1.1"/>
<line x1="41.5" y1="236.00" x2="44.5" y2="236.00" stroke="#555" stroke-width="1.1"/>
<line x1="327.5" y1="236.00" x2="330.5" y2="236.00" stroke="#555" stroke-width="1.1"/>
<line x1="186.00" y1="203.5" x2="186.00" y2="206.5" stroke="#555" stroke-width="1.1"/>
<line x1="186.00" y1="330.5" x2="186.00" y2="333.5" stroke="#555" stroke-width="1.1"/>
<text transform="translate(165.5,13) scale(1,1.08)" x="0" y="0" font-size="15.4" font-family="Liberation Serif" fill="#1f1d19" stroke="#1f1d19" stroke-width="0.22" text-anchor="middle" >Outer midplane density</text>
<text transform="translate(185.2,197.8) scale(1,1.08)" x="0" y="0" font-size="15.4" font-family="Liberation Serif" fill="#1f1d19" stroke="#1f1d19" stroke-width="0.22" text-anchor="middle" >Outer midplane temperature</text>
<text x="184.8" y="177.8" font-size="15.5" font-family="Liberation Serif" fill="#1f1d19" stroke="#1f1d19" stroke-width="0.22" text-anchor="middle" >Distance from separatrix, m</text>
<text x="186.2" y="363" font-size="15.5" font-family="Liberation Serif" fill="#1f1d19" stroke="#1f1d19" stroke-width="0.22" text-anchor="middle" >Distance from separatrix, m</text>
<text x="37.5" y="153.3" font-size="13" font-family="Liberation Serif" fill="#3c3c3c" stroke="#3c3c3c" stroke-width="0" text-anchor="end" >0</text>
<text x="37.5" y="110.6" font-size="13" font-family="Liberation Serif" fill="#3c3c3c" stroke="#3c3c3c" stroke-width="0" text-anchor="end" >1</text>
<text x="37.5" y="68" font-size="13" font-family="Liberation Serif" fill="#3c3c3c" stroke="#3c3c3c" stroke-width="0" text-anchor="end" >2</text>
<text x="37.5" y="25.5" font-size="13" font-family="Liberation Serif" fill="#3c3c3c" stroke="#3c3c3c" stroke-width="0" text-anchor="end" >3</text>
<text x="40.5" y="165" font-size="13" font-family="Liberation Serif" fill="#3c3c3c" stroke="#3c3c3c" stroke-width="0" text-anchor="middle" >-0.05</text>
<text x="185.5" y="165" font-size="13" font-family="Liberation Serif" fill="#3c3c3c" stroke="#3c3c3c" stroke-width="0" text-anchor="middle" >0</text>
<text x="330.5" y="165" font-size="13" font-family="Liberation Serif" fill="#3c3c3c" stroke="#3c3c3c" stroke-width="0" text-anchor="middle" >0.05</text>
<text x="41.3" y="19.7" font-size="14" font-family="Liberation Serif" fill="#1f1d19" stroke="#1f1d19" stroke-width="0" text-anchor="start" >&#215;10</text>
<text x="38.5" y="337.5" font-size="13" font-family="Liberation Serif" fill="#3c3c3c" stroke="#3c3c3c" stroke-width="0" text-anchor="end" >0</text>
<text x="38.5" y="305" font-size="13" font-family="Liberation Serif" fill="#3c3c3c" stroke="#3c3c3c" stroke-width="0" text-anchor="end" >50</text>
<text x="38.5" y="272.5" font-size="13" font-family="Liberation Serif" fill="#3c3c3c" stroke="#3c3c3c" stroke-width="0" text-anchor="end" >100</text>
<text x="38.5" y="240" font-size="13" font-family="Liberation Serif" fill="#3c3c3c" stroke="#3c3c3c" stroke-width="0" text-anchor="end" >150</text>
<text x="38.5" y="207.5" font-size="13" font-family="Liberation Serif" fill="#3c3c3c" stroke="#3c3c3c" stroke-width="0" text-anchor="end" >200</text>
<text x="41.5" y="349" font-size="13" font-family="Liberation Serif" fill="#3c3c3c" stroke="#3c3c3c" stroke-width="0" text-anchor="middle" >-0.05</text>
<text x="186" y="349" font-size="13" font-family="Liberation Serif" fill="#3c3c3c" stroke="#3c3c3c" stroke-width="0" text-anchor="middle" >0</text>
<text x="330.5" y="349" font-size="13" font-family="Liberation Serif" fill="#3c3c3c" stroke="#3c3c3c" stroke-width="0" text-anchor="middle" >0.05</text>
<text x="244.5" y="33.3" font-size="13.5" font-family="Liberation Serif" fill="#1f1d19" stroke="#1f1d19" stroke-width="0" text-anchor="start" >n</text>
<text x="250.6" y="39.0" font-size="9.3" font-family="Liberation Serif" fill="#1f1d19" stroke="#1f1d19" stroke-width="0" text-anchor="start" >e</text>
<text x="244.5" y="50.8" font-size="13.5" font-family="Liberation Serif" fill="#1f1d19" stroke="#1f1d19" stroke-width="0" text-anchor="start" >n</text>
<text x="250.4" y="56.5" font-size="9.3" font-family="Liberation Serif" fill="#1f1d19" stroke="#1f1d19" stroke-width="0" text-anchor="start" >i main</text>
<text x="244.5" y="69.8" font-size="13.5" font-family="Liberation Serif" fill="#1f1d19" stroke="#1f1d19" stroke-width="0" text-anchor="start" >n</text>
<text x="250.5" y="74.8" font-size="9.3" font-family="Liberation Serif" fill="#1f1d19" stroke="#1f1d19" stroke-width="0" text-anchor="start" >e experimental fitted</text>
<text x="244.5" y="87.7" font-size="13.5" font-family="Liberation Serif" fill="#1f1d19" stroke="#1f1d19" stroke-width="0" text-anchor="start" >n</text>
<text x="250.5" y="93.3" font-size="9.3" font-family="Liberation Serif" fill="#1f1d19" stroke="#1f1d19" stroke-width="0" text-anchor="start" >e experimental real</text>
<text x="245.8" y="215.4" font-size="13.5" font-family="Liberation Serif" fill="#1f1d19" stroke="#1f1d19" stroke-width="0" text-anchor="start" >T</text>
<text x="252" y="220.5" font-size="9.3" font-family="Liberation Serif" fill="#1f1d19" stroke="#1f1d19" stroke-width="0" text-anchor="start" >e</text>
<text x="245.8" y="233.3" font-size="13.5" font-family="Liberation Serif" fill="#1f1d19" stroke="#1f1d19" stroke-width="0" text-anchor="start" >T</text>
<text x="252.3" y="239" font-size="9.3" font-family="Liberation Serif" fill="#1f1d19" stroke="#1f1d19" stroke-width="0" text-anchor="start" >i</text>
<text x="245.2" y="252.3" font-size="13.5" font-family="Liberation Serif" fill="#1f1d19" stroke="#1f1d19" stroke-width="0" text-anchor="start" >Te</text>
<text x="257.5" y="257.2" font-size="9.3" font-family="Liberation Serif" fill="#1f1d19" stroke="#1f1d19" stroke-width="0" text-anchor="start" >experimental fitted</text>
<text x="245.2" y="270" font-size="13.5" font-family="Liberation Serif" fill="#1f1d19" stroke="#1f1d19" stroke-width="0" text-anchor="start" >Te</text>
<text x="257.5" y="275.2" font-size="9.3" font-family="Liberation Serif" fill="#1f1d19" stroke="#1f1d19" stroke-width="0" text-anchor="start" >experimental real</text>
<g transform="translate(24.3,116.5) rotate(-90)" font-family="Liberation Serif" fill="#1f1d19" stroke="#1f1d19" stroke-width="0.15"><text x="0.5" y="0" font-size="15.5">n</text><text x="9.4" y="0" font-size="15.5">,</text><text x="22.5" y="0.2" font-size="19.5" stroke-width="0">(</text><text x="28.5" y="0" font-size="15.5">m</text><rect x="42.3" y="-9.2" width="7" height="0.8"/><text x="49.3" y="-5.4" font-size="12">3</text><text x="54.8" y="0.2" font-size="19.5" stroke-width="0">)</text></g>
<g transform="translate(12.3,294) rotate(-90)" font-family="Liberation Serif" fill="#1f1d19" stroke="#1f1d19" stroke-width="0.15"><text x="0.8" y="0" font-size="16">T</text><text x="10.8" y="0" font-size="15.5">,</text><text x="21" y="-0.5" font-size="18" stroke-width="0">(</text><text x="26.2" y="0" font-size="15.5">e</text><text x="33.3" y="0" font-size="15.5">V</text><text x="45.3" y="-0.5" font-size="18" stroke-width="0">)</text></g>
</svg></body></html>
